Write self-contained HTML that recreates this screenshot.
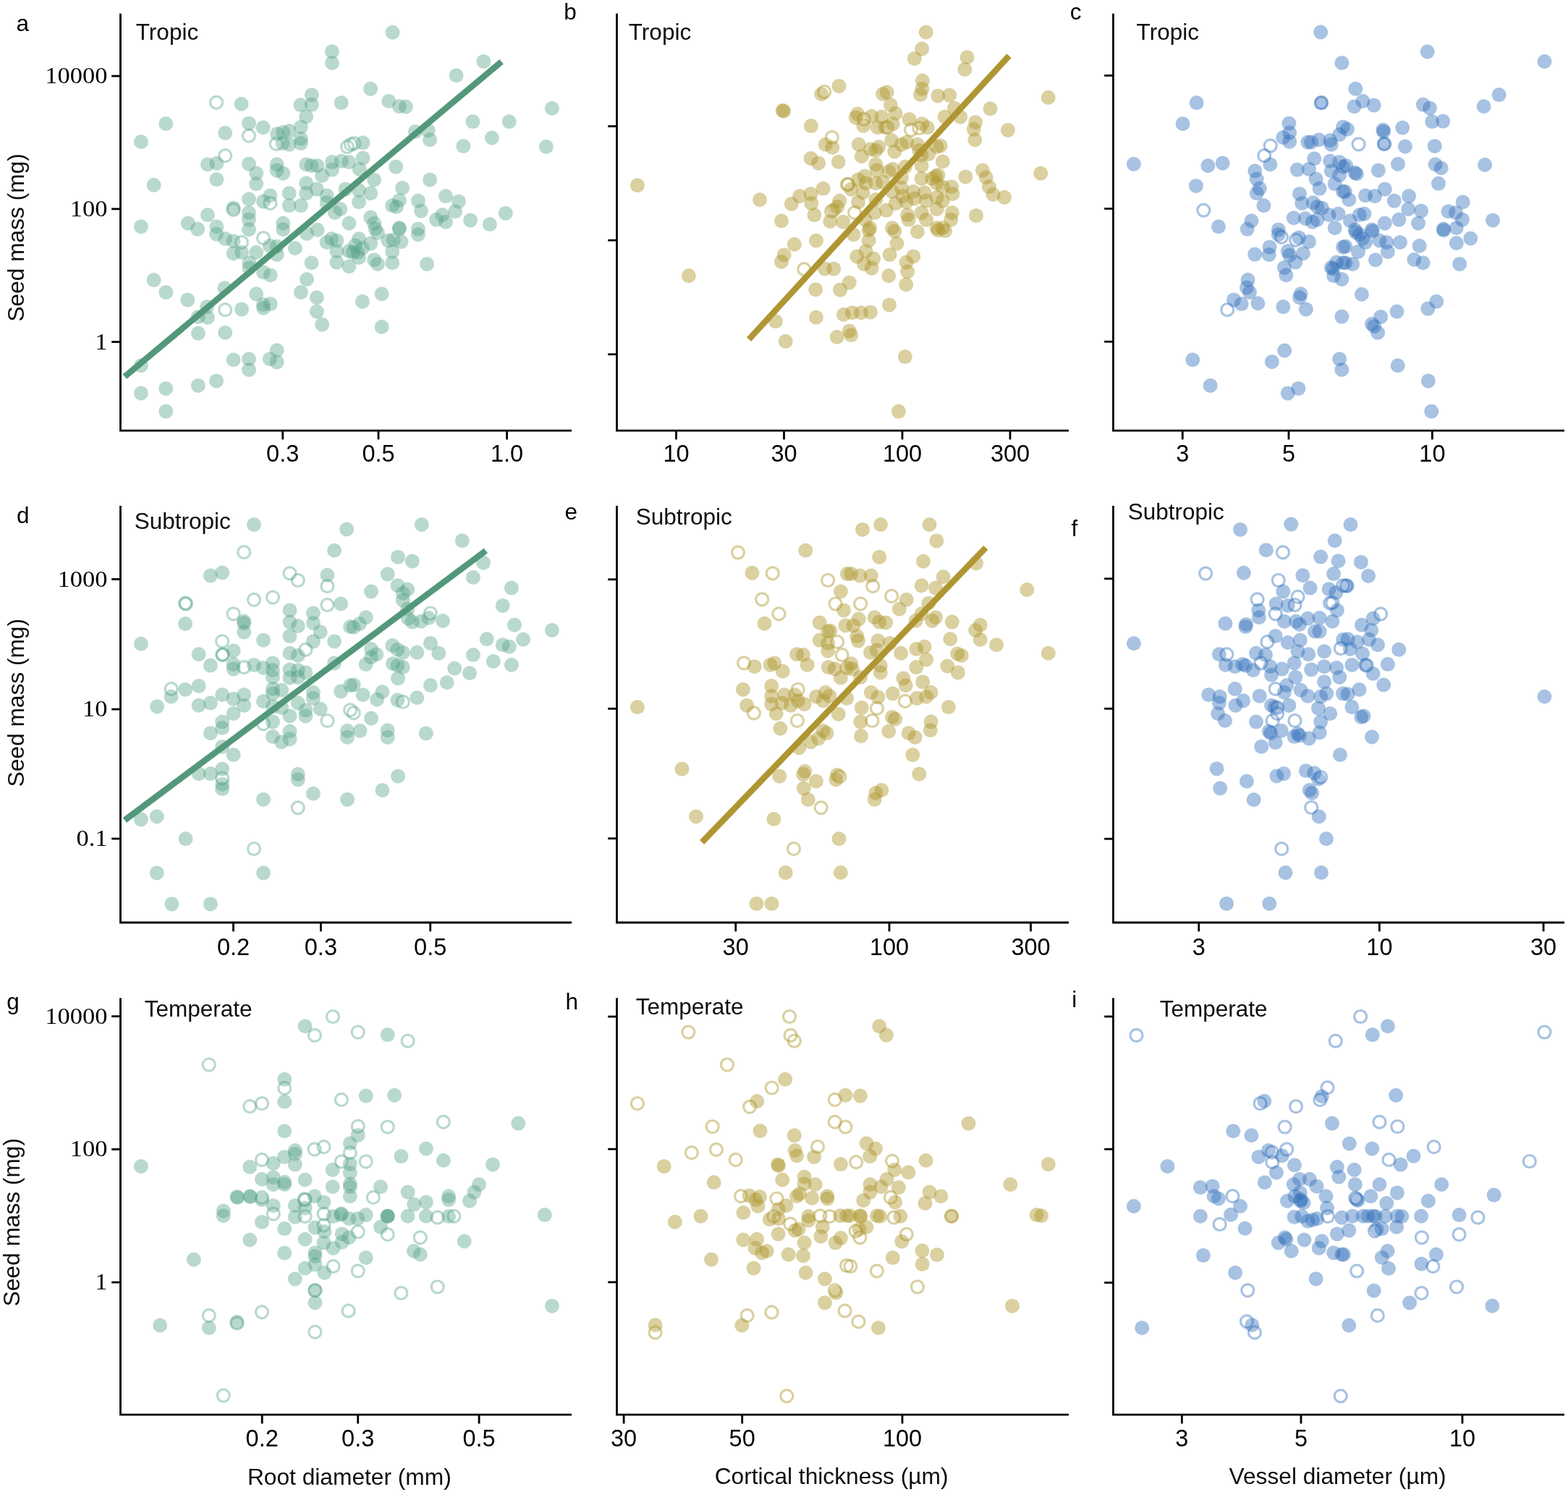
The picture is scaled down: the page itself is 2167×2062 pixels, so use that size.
<!DOCTYPE html>
<html><head><meta charset="utf-8"><title>Seed mass vs root traits</title>
<style>html,body{margin:0;padding:0;background:#fff;}
svg{display:block;}
.xl{font-family:"Liberation Sans",Arial,sans-serif;font-size:32.5px;text-anchor:middle;fill:#000;}
.yl{font-family:"Liberation Serif","Times New Roman",serif;font-size:32.5px;text-anchor:end;fill:#000;}
.lt{font-family:"Liberation Sans",Arial,sans-serif;font-size:31.5px;fill:#110c0c;}
.pl{font-family:"Liberation Sans",Arial,sans-serif;font-size:31.5px;fill:#000;}
.at{font-family:"Liberation Sans",Arial,sans-serif;font-size:31.7px;text-anchor:middle;fill:#110c0c;}
</style></head>
<body>
<svg xmlns="http://www.w3.org/2000/svg" width="2167" height="2062" viewBox="0 0 2167 2062">
<rect width="2167" height="2062" fill="#ffffff"/>
<g><circle cx="458.9" cy="71.2" r="10" fill="#50a082" fill-opacity="0.4"/><circle cx="458.9" cy="87" r="10" fill="#50a082" fill-opacity="0.4"/><circle cx="430.8" cy="131.3" r="10" fill="#50a082" fill-opacity="0.4"/><circle cx="415.4" cy="145.1" r="10" fill="#50a082" fill-opacity="0.4"/><circle cx="430.8" cy="144.6" r="10" fill="#50a082" fill-opacity="0.4"/><circle cx="471.6" cy="142.1" r="10" fill="#50a082" fill-opacity="0.4"/><circle cx="299.1" cy="141.7" r="8.5" fill="none" stroke="#50a082" stroke-width="3.2" stroke-opacity="0.4"/><circle cx="333.6" cy="143.8" r="10" fill="#50a082" fill-opacity="0.4"/><circle cx="423.2" cy="161.3" r="10" fill="#50a082" fill-opacity="0.4"/><circle cx="229.3" cy="171" r="10" fill="#50a082" fill-opacity="0.4"/><circle cx="344" cy="170.5" r="10" fill="#50a082" fill-opacity="0.4"/><circle cx="363.6" cy="176.2" r="10" fill="#50a082" fill-opacity="0.4"/><circle cx="415.9" cy="175.4" r="10" fill="#50a082" fill-opacity="0.4"/><circle cx="311.2" cy="183.8" r="10" fill="#50a082" fill-opacity="0.4"/><circle cx="344" cy="187.6" r="8.5" fill="none" stroke="#50a082" stroke-width="3.2" stroke-opacity="0.4"/><circle cx="194.9" cy="196" r="10" fill="#50a082" fill-opacity="0.4"/><circle cx="383.1" cy="185.1" r="10" fill="#50a082" fill-opacity="0.4"/><circle cx="391.2" cy="182.7" r="10" fill="#50a082" fill-opacity="0.4"/><circle cx="399.7" cy="181.1" r="10" fill="#50a082" fill-opacity="0.4"/><circle cx="381.8" cy="198.9" r="8.5" fill="none" stroke="#50a082" stroke-width="3.2" stroke-opacity="0.4"/><circle cx="390.7" cy="198.1" r="10" fill="#50a082" fill-opacity="0.4"/><circle cx="399.7" cy="199.7" r="10" fill="#50a082" fill-opacity="0.4"/><circle cx="415.9" cy="191.6" r="10" fill="#50a082" fill-opacity="0.4"/><circle cx="415.9" cy="198.1" r="10" fill="#50a082" fill-opacity="0.4"/><circle cx="480" cy="203" r="8.5" fill="none" stroke="#50a082" stroke-width="3.2" stroke-opacity="0.4"/><circle cx="484.9" cy="199.7" r="8.5" fill="none" stroke="#50a082" stroke-width="3.2" stroke-opacity="0.4"/><circle cx="311.2" cy="215.2" r="8.5" fill="none" stroke="#50a082" stroke-width="3.2" stroke-opacity="0.4"/><circle cx="286.9" cy="227.3" r="10" fill="#50a082" fill-opacity="0.4"/><circle cx="299.4" cy="225.7" r="10" fill="#50a082" fill-opacity="0.4"/><circle cx="344" cy="226.5" r="10" fill="#50a082" fill-opacity="0.4"/><circle cx="382.6" cy="227.3" r="10" fill="#50a082" fill-opacity="0.4"/><circle cx="382.6" cy="235.4" r="10" fill="#50a082" fill-opacity="0.4"/><circle cx="391.2" cy="239.5" r="10" fill="#50a082" fill-opacity="0.4"/><circle cx="354.2" cy="239.5" r="10" fill="#50a082" fill-opacity="0.4"/><circle cx="423.2" cy="227.3" r="10" fill="#50a082" fill-opacity="0.4"/><circle cx="430.5" cy="229" r="10" fill="#50a082" fill-opacity="0.4"/><circle cx="438.6" cy="229" r="10" fill="#50a082" fill-opacity="0.4"/><circle cx="458.9" cy="224.1" r="10" fill="#50a082" fill-opacity="0.4"/><circle cx="471.9" cy="222.5" r="10" fill="#50a082" fill-opacity="0.4"/><circle cx="482.4" cy="224.1" r="10" fill="#50a082" fill-opacity="0.4"/><circle cx="445.1" cy="242.7" r="10" fill="#50a082" fill-opacity="0.4"/><circle cx="458.9" cy="234.6" r="10" fill="#50a082" fill-opacity="0.4"/><circle cx="299.4" cy="248.1" r="10" fill="#50a082" fill-opacity="0.4"/><circle cx="212.6" cy="255.7" r="10" fill="#50a082" fill-opacity="0.4"/><circle cx="354.2" cy="254.1" r="10" fill="#50a082" fill-opacity="0.4"/><circle cx="423.2" cy="253.3" r="10" fill="#50a082" fill-opacity="0.4"/><circle cx="437.8" cy="261.4" r="10" fill="#50a082" fill-opacity="0.4"/><circle cx="399.7" cy="267.1" r="10" fill="#50a082" fill-opacity="0.4"/><circle cx="423.2" cy="267.1" r="10" fill="#50a082" fill-opacity="0.4"/><circle cx="477.6" cy="261.4" r="10" fill="#50a082" fill-opacity="0.4"/><circle cx="344" cy="275.2" r="10" fill="#50a082" fill-opacity="0.4"/><circle cx="373.4" cy="270.3" r="10" fill="#50a082" fill-opacity="0.4"/><circle cx="364" cy="278.4" r="10" fill="#50a082" fill-opacity="0.4"/><circle cx="373.4" cy="280.9" r="8.5" fill="none" stroke="#50a082" stroke-width="3.2" stroke-opacity="0.4"/><circle cx="399.7" cy="284.1" r="10" fill="#50a082" fill-opacity="0.4"/><circle cx="415.9" cy="284.1" r="10" fill="#50a082" fill-opacity="0.4"/><circle cx="451.6" cy="270.3" r="10" fill="#50a082" fill-opacity="0.4"/><circle cx="451.6" cy="280.1" r="10" fill="#50a082" fill-opacity="0.4"/><circle cx="322.6" cy="287.4" r="10" fill="#50a082" fill-opacity="0.4"/><circle cx="322.6" cy="289.8" r="8.5" fill="none" stroke="#50a082" stroke-width="3.2" stroke-opacity="0.4"/><circle cx="344" cy="293.9" r="10" fill="#50a082" fill-opacity="0.4"/><circle cx="344" cy="303.6" r="10" fill="#50a082" fill-opacity="0.4"/><circle cx="286.9" cy="297.1" r="10" fill="#50a082" fill-opacity="0.4"/><circle cx="259.8" cy="308.5" r="10" fill="#50a082" fill-opacity="0.4"/><circle cx="273.1" cy="316.6" r="10" fill="#50a082" fill-opacity="0.4"/><circle cx="299.4" cy="313.3" r="10" fill="#50a082" fill-opacity="0.4"/><circle cx="194.9" cy="313.3" r="10" fill="#50a082" fill-opacity="0.4"/><circle cx="391.2" cy="308.5" r="10" fill="#50a082" fill-opacity="0.4"/><circle cx="470.3" cy="289" r="10" fill="#50a082" fill-opacity="0.4"/><circle cx="463" cy="293.9" r="10" fill="#50a082" fill-opacity="0.4"/><circle cx="482.4" cy="308.5" r="10" fill="#50a082" fill-opacity="0.4"/><circle cx="542.5" cy="44.8" r="10" fill="#50a082" fill-opacity="0.4"/><circle cx="668.3" cy="84.9" r="10" fill="#50a082" fill-opacity="0.4"/><circle cx="630.6" cy="104.3" r="10" fill="#50a082" fill-opacity="0.4"/><circle cx="512.2" cy="122.7" r="10" fill="#50a082" fill-opacity="0.4"/><circle cx="537.3" cy="139.7" r="10" fill="#50a082" fill-opacity="0.4"/><circle cx="551.9" cy="147" r="10" fill="#50a082" fill-opacity="0.4"/><circle cx="560.9" cy="147.5" r="10" fill="#50a082" fill-opacity="0.4"/><circle cx="762.9" cy="149.8" r="10" fill="#50a082" fill-opacity="0.4"/><circle cx="653.4" cy="168.1" r="10" fill="#50a082" fill-opacity="0.4"/><circle cx="703.7" cy="168.1" r="10" fill="#50a082" fill-opacity="0.4"/><circle cx="573.9" cy="181.9" r="10" fill="#50a082" fill-opacity="0.4"/><circle cx="591.7" cy="180.3" r="10" fill="#50a082" fill-opacity="0.4"/><circle cx="594.1" cy="193.3" r="10" fill="#50a082" fill-opacity="0.4"/><circle cx="679.8" cy="190.5" r="10" fill="#50a082" fill-opacity="0.4"/><circle cx="640.4" cy="201.9" r="10" fill="#50a082" fill-opacity="0.4"/><circle cx="754.8" cy="202.7" r="10" fill="#50a082" fill-opacity="0.4"/><circle cx="489.5" cy="198.1" r="8.5" fill="none" stroke="#50a082" stroke-width="3.2" stroke-opacity="0.4"/><circle cx="501.6" cy="197.3" r="10" fill="#50a082" fill-opacity="0.4"/><circle cx="501.6" cy="218.4" r="10" fill="#50a082" fill-opacity="0.4"/><circle cx="496.8" cy="233.8" r="10" fill="#50a082" fill-opacity="0.4"/><circle cx="517.1" cy="248.4" r="10" fill="#50a082" fill-opacity="0.4"/><circle cx="547.1" cy="230.6" r="10" fill="#50a082" fill-opacity="0.4"/><circle cx="594.1" cy="248.4" r="10" fill="#50a082" fill-opacity="0.4"/><circle cx="556" cy="259.8" r="10" fill="#50a082" fill-opacity="0.4"/><circle cx="496" cy="263" r="10" fill="#50a082" fill-opacity="0.4"/><circle cx="496" cy="279.3" r="10" fill="#50a082" fill-opacity="0.4"/><circle cx="512.2" cy="267.1" r="10" fill="#50a082" fill-opacity="0.4"/><circle cx="551.9" cy="276.8" r="10" fill="#50a082" fill-opacity="0.4"/><circle cx="542.2" cy="284.1" r="10" fill="#50a082" fill-opacity="0.4"/><circle cx="547.9" cy="285.7" r="10" fill="#50a082" fill-opacity="0.4"/><circle cx="577.9" cy="277.6" r="10" fill="#50a082" fill-opacity="0.4"/><circle cx="582" cy="291.4" r="10" fill="#50a082" fill-opacity="0.4"/><circle cx="616" cy="271.1" r="10" fill="#50a082" fill-opacity="0.4"/><circle cx="633.9" cy="278.4" r="10" fill="#50a082" fill-opacity="0.4"/><circle cx="629" cy="292.2" r="10" fill="#50a082" fill-opacity="0.4"/><circle cx="611.2" cy="297.1" r="10" fill="#50a082" fill-opacity="0.4"/><circle cx="603.1" cy="303.6" r="10" fill="#50a082" fill-opacity="0.4"/><circle cx="616" cy="306.8" r="10" fill="#50a082" fill-opacity="0.4"/><circle cx="650.1" cy="304.4" r="10" fill="#50a082" fill-opacity="0.4"/><circle cx="698.8" cy="294.7" r="10" fill="#50a082" fill-opacity="0.4"/><circle cx="676.9" cy="310.1" r="10" fill="#50a082" fill-opacity="0.4"/><circle cx="512.2" cy="300.4" r="10" fill="#50a082" fill-opacity="0.4"/><circle cx="517.1" cy="308.5" r="10" fill="#50a082" fill-opacity="0.4"/><circle cx="551.9" cy="315" r="10" fill="#50a082" fill-opacity="0.4"/><circle cx="577.9" cy="316.6" r="10" fill="#50a082" fill-opacity="0.4"/><circle cx="299.1" cy="323.5" r="10" fill="#50a082" fill-opacity="0.4"/><circle cx="344" cy="317" r="10" fill="#50a082" fill-opacity="0.4"/><circle cx="391.2" cy="317" r="10" fill="#50a082" fill-opacity="0.4"/><circle cx="311.2" cy="330" r="10" fill="#50a082" fill-opacity="0.4"/><circle cx="322.6" cy="333.3" r="10" fill="#50a082" fill-opacity="0.4"/><circle cx="334" cy="334.9" r="8.5" fill="none" stroke="#50a082" stroke-width="3.2" stroke-opacity="0.4"/><circle cx="322.6" cy="350.3" r="10" fill="#50a082" fill-opacity="0.4"/><circle cx="334" cy="348.7" r="10" fill="#50a082" fill-opacity="0.4"/><circle cx="354.2" cy="348.7" r="10" fill="#50a082" fill-opacity="0.4"/><circle cx="364" cy="329.2" r="8.5" fill="none" stroke="#50a082" stroke-width="3.2" stroke-opacity="0.4"/><circle cx="372.9" cy="339.8" r="10" fill="#50a082" fill-opacity="0.4"/><circle cx="382.6" cy="340.6" r="10" fill="#50a082" fill-opacity="0.4"/><circle cx="382.6" cy="351.9" r="10" fill="#50a082" fill-opacity="0.4"/><circle cx="344.5" cy="363.3" r="10" fill="#50a082" fill-opacity="0.4"/><circle cx="344.5" cy="370.6" r="10" fill="#50a082" fill-opacity="0.4"/><circle cx="364" cy="376.3" r="10" fill="#50a082" fill-opacity="0.4"/><circle cx="373.7" cy="380.3" r="10" fill="#50a082" fill-opacity="0.4"/><circle cx="407.8" cy="343" r="10" fill="#50a082" fill-opacity="0.4"/><circle cx="424" cy="322.7" r="10" fill="#50a082" fill-opacity="0.4"/><circle cx="438.6" cy="317.8" r="10" fill="#50a082" fill-opacity="0.4"/><circle cx="451.6" cy="334.9" r="10" fill="#50a082" fill-opacity="0.4"/><circle cx="458.1" cy="330" r="10" fill="#50a082" fill-opacity="0.4"/><circle cx="465.4" cy="332.5" r="10" fill="#50a082" fill-opacity="0.4"/><circle cx="465.4" cy="347.1" r="10" fill="#50a082" fill-opacity="0.4"/><circle cx="465.4" cy="362.5" r="10" fill="#50a082" fill-opacity="0.4"/><circle cx="482.4" cy="347.1" r="10" fill="#50a082" fill-opacity="0.4"/><circle cx="482.4" cy="368.2" r="10" fill="#50a082" fill-opacity="0.4"/><circle cx="430.5" cy="363.3" r="10" fill="#50a082" fill-opacity="0.4"/><circle cx="424" cy="386" r="10" fill="#50a082" fill-opacity="0.4"/><circle cx="415.9" cy="403.9" r="10" fill="#50a082" fill-opacity="0.4"/><circle cx="437.8" cy="411.2" r="10" fill="#50a082" fill-opacity="0.4"/><circle cx="437.8" cy="430.6" r="10" fill="#50a082" fill-opacity="0.4"/><circle cx="445.1" cy="448.5" r="10" fill="#50a082" fill-opacity="0.4"/><circle cx="310.4" cy="398.2" r="10" fill="#50a082" fill-opacity="0.4"/><circle cx="354.2" cy="406.3" r="10" fill="#50a082" fill-opacity="0.4"/><circle cx="364" cy="420.9" r="10" fill="#50a082" fill-opacity="0.4"/><circle cx="364" cy="425.8" r="10" fill="#50a082" fill-opacity="0.4"/><circle cx="373.7" cy="420.1" r="10" fill="#50a082" fill-opacity="0.4"/><circle cx="334" cy="427.4" r="10" fill="#50a082" fill-opacity="0.4"/><circle cx="311.2" cy="428.2" r="8.5" fill="none" stroke="#50a082" stroke-width="3.2" stroke-opacity="0.4"/><circle cx="286.1" cy="424.1" r="10" fill="#50a082" fill-opacity="0.4"/><circle cx="273.9" cy="437.9" r="10" fill="#50a082" fill-opacity="0.4"/><circle cx="286.9" cy="438.7" r="10" fill="#50a082" fill-opacity="0.4"/><circle cx="259.3" cy="414.4" r="10" fill="#50a082" fill-opacity="0.4"/><circle cx="229.3" cy="403.9" r="10" fill="#50a082" fill-opacity="0.4"/><circle cx="212.6" cy="387.1" r="10" fill="#50a082" fill-opacity="0.4"/><circle cx="273.9" cy="460.6" r="10" fill="#50a082" fill-opacity="0.4"/><circle cx="311.2" cy="459.8" r="10" fill="#50a082" fill-opacity="0.4"/><circle cx="194.9" cy="505.3" r="10" fill="#50a082" fill-opacity="0.4"/><circle cx="322.6" cy="497.2" r="10" fill="#50a082" fill-opacity="0.4"/><circle cx="344" cy="496.3" r="10" fill="#50a082" fill-opacity="0.4"/><circle cx="344" cy="511" r="10" fill="#50a082" fill-opacity="0.4"/><circle cx="372.9" cy="496.3" r="10" fill="#50a082" fill-opacity="0.4"/><circle cx="382.6" cy="484.2" r="10" fill="#50a082" fill-opacity="0.4"/><circle cx="382.6" cy="500.4" r="10" fill="#50a082" fill-opacity="0.4"/><circle cx="299.1" cy="526.4" r="10" fill="#50a082" fill-opacity="0.4"/><circle cx="273.9" cy="532.9" r="10" fill="#50a082" fill-opacity="0.4"/><circle cx="229.3" cy="536.9" r="10" fill="#50a082" fill-opacity="0.4"/><circle cx="194.9" cy="543.4" r="10" fill="#50a082" fill-opacity="0.4"/><circle cx="229.3" cy="568.6" r="10" fill="#50a082" fill-opacity="0.4"/><circle cx="518.7" cy="316.2" r="10" fill="#50a082" fill-opacity="0.4"/><circle cx="521.9" cy="321.9" r="10" fill="#50a082" fill-opacity="0.4"/><circle cx="496" cy="330" r="10" fill="#50a082" fill-opacity="0.4"/><circle cx="512.2" cy="336.5" r="10" fill="#50a082" fill-opacity="0.4"/><circle cx="491.1" cy="338.9" r="10" fill="#50a082" fill-opacity="0.4"/><circle cx="500.8" cy="343" r="10" fill="#50a082" fill-opacity="0.4"/><circle cx="487.8" cy="348.7" r="10" fill="#50a082" fill-opacity="0.4"/><circle cx="494.3" cy="348.7" r="10" fill="#50a082" fill-opacity="0.4"/><circle cx="496" cy="356" r="10" fill="#50a082" fill-opacity="0.4"/><circle cx="536.5" cy="332.5" r="10" fill="#50a082" fill-opacity="0.4"/><circle cx="543.8" cy="331.6" r="10" fill="#50a082" fill-opacity="0.4"/><circle cx="551.9" cy="316.2" r="10" fill="#50a082" fill-opacity="0.4"/><circle cx="554.4" cy="334.1" r="10" fill="#50a082" fill-opacity="0.4"/><circle cx="542.2" cy="347.9" r="10" fill="#50a082" fill-opacity="0.4"/><circle cx="542.2" cy="363.3" r="10" fill="#50a082" fill-opacity="0.4"/><circle cx="517.1" cy="359.2" r="10" fill="#50a082" fill-opacity="0.4"/><circle cx="521.9" cy="364.9" r="10" fill="#50a082" fill-opacity="0.4"/><circle cx="577.9" cy="324.3" r="10" fill="#50a082" fill-opacity="0.4"/><circle cx="590.1" cy="364.9" r="10" fill="#50a082" fill-opacity="0.4"/><circle cx="500.8" cy="416.8" r="10" fill="#50a082" fill-opacity="0.4"/><circle cx="527.6" cy="406.3" r="10" fill="#50a082" fill-opacity="0.4"/><circle cx="527.6" cy="451.7" r="10" fill="#50a082" fill-opacity="0.4"/></g>
<line x1="172.4" y1="520.5" x2="693.1" y2="85.3" stroke="#53987a" stroke-width="8.5"/>
<path d="M166.5 18.7 V595.1 H790" fill="none" stroke="#000" stroke-width="2.8" stroke-linecap="butt" stroke-linejoin="miter"/>
<line x1="154.2" y1="105.1" x2="166.5" y2="105.1" stroke="#000" stroke-width="2.8"/>
<line x1="154.2" y1="288.8" x2="166.5" y2="288.8" stroke="#000" stroke-width="2.8"/>
<line x1="154.2" y1="472.5" x2="166.5" y2="472.5" stroke="#000" stroke-width="2.8"/>
<line x1="390.7" y1="595.1" x2="390.7" y2="607.4" stroke="#000" stroke-width="2.8"/>
<text x="390.7" y="638.0" class="xl">0.3</text>
<line x1="523" y1="595.1" x2="523" y2="607.4" stroke="#000" stroke-width="2.8"/>
<text x="523" y="638.0" class="xl">0.5</text>
<line x1="700.6" y1="595.1" x2="700.6" y2="607.4" stroke="#000" stroke-width="2.8"/>
<text x="700.6" y="638.0" class="xl">1.0</text>
<text x="148.6" y="115.1" class="yl" textLength="86.25" lengthAdjust="spacingAndGlyphs">10000</text>
<text x="148.6" y="298.8" class="yl" textLength="51.75" lengthAdjust="spacingAndGlyphs">100</text>
<text x="148.6" y="482.5" class="yl" textLength="17.25" lengthAdjust="spacingAndGlyphs">1</text>
<text x="22.6" y="42.6" class="pl">a</text>
<text x="187.8" y="54.7" class="lt">Tropic</text>
<g><circle cx="1159.5" cy="118.9" r="10" fill="#ad972c" fill-opacity="0.45"/><circle cx="1135.2" cy="130" r="10" fill="#ad972c" fill-opacity="0.45"/><circle cx="1139.2" cy="127" r="8.5" fill="none" stroke="#ad972c" stroke-width="3.2" stroke-opacity="0.45"/><circle cx="1081.6" cy="152.7" r="10" fill="#ad972c" fill-opacity="0.45"/><circle cx="1083.2" cy="153.5" r="10" fill="#ad972c" fill-opacity="0.45"/><circle cx="1120.9" cy="174.1" r="10" fill="#ad972c" fill-opacity="0.45"/><circle cx="1149.8" cy="190" r="8.5" fill="none" stroke="#ad972c" stroke-width="3.2" stroke-opacity="0.45"/><circle cx="1140.8" cy="199.7" r="10" fill="#ad972c" fill-opacity="0.45"/><circle cx="1150.3" cy="203.8" r="10" fill="#ad972c" fill-opacity="0.45"/><circle cx="1120.6" cy="218.9" r="10" fill="#ad972c" fill-opacity="0.45"/><circle cx="1131.1" cy="225.4" r="10" fill="#ad972c" fill-opacity="0.45"/><circle cx="1158.7" cy="223.8" r="10" fill="#ad972c" fill-opacity="0.45"/><circle cx="880.9" cy="256.2" r="10" fill="#ad972c" fill-opacity="0.45"/><circle cx="1050" cy="276" r="10" fill="#ad972c" fill-opacity="0.45"/><circle cx="1093.8" cy="281.7" r="10" fill="#ad972c" fill-opacity="0.45"/><circle cx="1105.1" cy="271.1" r="10" fill="#ad972c" fill-opacity="0.45"/><circle cx="1120.6" cy="267.9" r="10" fill="#ad972c" fill-opacity="0.45"/><circle cx="1121.4" cy="280.9" r="10" fill="#ad972c" fill-opacity="0.45"/><circle cx="1137.6" cy="260.6" r="10" fill="#ad972c" fill-opacity="0.45"/><circle cx="1170.9" cy="254.9" r="8.5" fill="none" stroke="#ad972c" stroke-width="3.2" stroke-opacity="0.45"/><circle cx="1125.4" cy="297.1" r="10" fill="#ad972c" fill-opacity="0.45"/><circle cx="1080" cy="305.2" r="10" fill="#ad972c" fill-opacity="0.45"/><circle cx="1147.3" cy="306" r="10" fill="#ad972c" fill-opacity="0.45"/><circle cx="1152.2" cy="290.6" r="10" fill="#ad972c" fill-opacity="0.45"/><circle cx="1157.1" cy="285.7" r="10" fill="#ad972c" fill-opacity="0.45"/><circle cx="1160.3" cy="277.6" r="10" fill="#ad972c" fill-opacity="0.45"/><circle cx="1165.2" cy="306.8" r="10" fill="#ad972c" fill-opacity="0.45"/><circle cx="1149" cy="292.2" r="8.5" fill="none" stroke="#ad972c" stroke-width="3.2" stroke-opacity="0.45"/><circle cx="1279.8" cy="44.5" r="10" fill="#ad972c" fill-opacity="0.45"/><circle cx="1274.1" cy="67.5" r="10" fill="#ad972c" fill-opacity="0.45"/><circle cx="1263.9" cy="81" r="10" fill="#ad972c" fill-opacity="0.45"/><circle cx="1336.6" cy="79.3" r="10" fill="#ad972c" fill-opacity="0.45"/><circle cx="1333.3" cy="95.9" r="10" fill="#ad972c" fill-opacity="0.45"/><circle cx="1274.9" cy="111.6" r="10" fill="#ad972c" fill-opacity="0.45"/><circle cx="1274.4" cy="122.7" r="10" fill="#ad972c" fill-opacity="0.45"/><circle cx="1272" cy="130.8" r="10" fill="#ad972c" fill-opacity="0.45"/><circle cx="1220" cy="130" r="10" fill="#ad972c" fill-opacity="0.45"/><circle cx="1225.7" cy="127.5" r="10" fill="#ad972c" fill-opacity="0.45"/><circle cx="1296.3" cy="132.4" r="10" fill="#ad972c" fill-opacity="0.45"/><circle cx="1312.2" cy="131.6" r="10" fill="#ad972c" fill-opacity="0.45"/><circle cx="1230.9" cy="145.1" r="10" fill="#ad972c" fill-opacity="0.45"/><circle cx="1237.6" cy="156.7" r="10" fill="#ad972c" fill-opacity="0.45"/><circle cx="1319" cy="149.4" r="10" fill="#ad972c" fill-opacity="0.45"/><circle cx="1305.7" cy="161.6" r="10" fill="#ad972c" fill-opacity="0.45"/><circle cx="1327.1" cy="161.6" r="10" fill="#ad972c" fill-opacity="0.45"/><circle cx="1368.5" cy="150.3" r="10" fill="#ad972c" fill-opacity="0.45"/><circle cx="1448.8" cy="134.8" r="10" fill="#ad972c" fill-opacity="0.45"/><circle cx="1348.2" cy="168.9" r="10" fill="#ad972c" fill-opacity="0.45"/><circle cx="1345.8" cy="178.6" r="10" fill="#ad972c" fill-opacity="0.45"/><circle cx="1347.4" cy="193.3" r="10" fill="#ad972c" fill-opacity="0.45"/><circle cx="1392.9" cy="179.9" r="10" fill="#ad972c" fill-opacity="0.45"/><circle cx="1185.2" cy="157.6" r="10" fill="#ad972c" fill-opacity="0.45"/><circle cx="1182.7" cy="162.4" r="10" fill="#ad972c" fill-opacity="0.45"/><circle cx="1194.1" cy="164.9" r="8.5" fill="none" stroke="#ad972c" stroke-width="3.2" stroke-opacity="0.45"/><circle cx="1193.3" cy="173.8" r="10" fill="#ad972c" fill-opacity="0.45"/><circle cx="1204.6" cy="160.8" r="10" fill="#ad972c" fill-opacity="0.45"/><circle cx="1212.7" cy="176.2" r="10" fill="#ad972c" fill-opacity="0.45"/><circle cx="1218.4" cy="161.6" r="10" fill="#ad972c" fill-opacity="0.45"/><circle cx="1226.5" cy="176.2" r="8.5" fill="none" stroke="#ad972c" stroke-width="3.2" stroke-opacity="0.45"/><circle cx="1223.3" cy="176.2" r="10" fill="#ad972c" fill-opacity="0.45"/><circle cx="1233.8" cy="171.3" r="10" fill="#ad972c" fill-opacity="0.45"/><circle cx="1256.6" cy="164.9" r="10" fill="#ad972c" fill-opacity="0.45"/><circle cx="1259" cy="179.5" r="8.5" fill="none" stroke="#ad972c" stroke-width="3.2" stroke-opacity="0.45"/><circle cx="1270.3" cy="177" r="8.5" fill="none" stroke="#ad972c" stroke-width="3.2" stroke-opacity="0.45"/><circle cx="1274.4" cy="171.3" r="10" fill="#ad972c" fill-opacity="0.45"/><circle cx="1281.7" cy="176.2" r="10" fill="#ad972c" fill-opacity="0.45"/><circle cx="1186.8" cy="199.7" r="10" fill="#ad972c" fill-opacity="0.45"/><circle cx="1190.8" cy="216" r="10" fill="#ad972c" fill-opacity="0.45"/><circle cx="1203" cy="206.2" r="10" fill="#ad972c" fill-opacity="0.45"/><circle cx="1210.3" cy="207.9" r="10" fill="#ad972c" fill-opacity="0.45"/><circle cx="1214.4" cy="203" r="10" fill="#ad972c" fill-opacity="0.45"/><circle cx="1232.2" cy="194.1" r="10" fill="#ad972c" fill-opacity="0.45"/><circle cx="1236.3" cy="209.5" r="10" fill="#ad972c" fill-opacity="0.45"/><circle cx="1246" cy="199.7" r="10" fill="#ad972c" fill-opacity="0.45"/><circle cx="1253.3" cy="196.5" r="10" fill="#ad972c" fill-opacity="0.45"/><circle cx="1267.9" cy="199.7" r="10" fill="#ad972c" fill-opacity="0.45"/><circle cx="1270.3" cy="207.9" r="10" fill="#ad972c" fill-opacity="0.45"/><circle cx="1273.6" cy="214.3" r="10" fill="#ad972c" fill-opacity="0.45"/><circle cx="1283.3" cy="212.7" r="10" fill="#ad972c" fill-opacity="0.45"/><circle cx="1294.7" cy="203" r="10" fill="#ad972c" fill-opacity="0.45"/><circle cx="1299.6" cy="201.4" r="10" fill="#ad972c" fill-opacity="0.45"/><circle cx="1302.8" cy="223.3" r="10" fill="#ad972c" fill-opacity="0.45"/><circle cx="1210.3" cy="227.3" r="10" fill="#ad972c" fill-opacity="0.45"/><circle cx="1211.9" cy="235.4" r="10" fill="#ad972c" fill-opacity="0.45"/><circle cx="1194.9" cy="243.6" r="10" fill="#ad972c" fill-opacity="0.45"/><circle cx="1186" cy="248.4" r="10" fill="#ad972c" fill-opacity="0.45"/><circle cx="1172.2" cy="254.9" r="8.5" fill="none" stroke="#ad972c" stroke-width="3.2" stroke-opacity="0.45"/><circle cx="1196.5" cy="253.3" r="10" fill="#ad972c" fill-opacity="0.45"/><circle cx="1210.3" cy="253.3" r="10" fill="#ad972c" fill-opacity="0.45"/><circle cx="1220" cy="251.7" r="10" fill="#ad972c" fill-opacity="0.45"/><circle cx="1228.2" cy="237.1" r="10" fill="#ad972c" fill-opacity="0.45"/><circle cx="1233.8" cy="233.8" r="10" fill="#ad972c" fill-opacity="0.45"/><circle cx="1250.9" cy="230.6" r="10" fill="#ad972c" fill-opacity="0.45"/><circle cx="1246" cy="245.2" r="10" fill="#ad972c" fill-opacity="0.45"/><circle cx="1273.6" cy="229" r="10" fill="#ad972c" fill-opacity="0.45"/><circle cx="1273.6" cy="246.8" r="10" fill="#ad972c" fill-opacity="0.45"/><circle cx="1288.2" cy="246.8" r="10" fill="#ad972c" fill-opacity="0.45"/><circle cx="1293.1" cy="243.6" r="10" fill="#ad972c" fill-opacity="0.45"/><circle cx="1296.3" cy="241.9" r="10" fill="#ad972c" fill-opacity="0.45"/><circle cx="1294.7" cy="253.3" r="10" fill="#ad972c" fill-opacity="0.45"/><circle cx="1334.4" cy="244.4" r="10" fill="#ad972c" fill-opacity="0.45"/><circle cx="1358" cy="235.4" r="10" fill="#ad972c" fill-opacity="0.45"/><circle cx="1362.8" cy="245.2" r="10" fill="#ad972c" fill-opacity="0.45"/><circle cx="1366.9" cy="258.2" r="10" fill="#ad972c" fill-opacity="0.45"/><circle cx="1372.6" cy="268.7" r="10" fill="#ad972c" fill-opacity="0.45"/><circle cx="1388" cy="272.8" r="10" fill="#ad972c" fill-opacity="0.45"/><circle cx="1438.3" cy="239.5" r="10" fill="#ad972c" fill-opacity="0.45"/><circle cx="1176.2" cy="261.4" r="10" fill="#ad972c" fill-opacity="0.45"/><circle cx="1192.5" cy="266.3" r="10" fill="#ad972c" fill-opacity="0.45"/><circle cx="1186" cy="279.3" r="10" fill="#ad972c" fill-opacity="0.45"/><circle cx="1210.3" cy="276" r="10" fill="#ad972c" fill-opacity="0.45"/><circle cx="1233" cy="264.7" r="10" fill="#ad972c" fill-opacity="0.45"/><circle cx="1237.9" cy="280.9" r="10" fill="#ad972c" fill-opacity="0.45"/><circle cx="1246" cy="259.8" r="10" fill="#ad972c" fill-opacity="0.45"/><circle cx="1247.6" cy="271.1" r="10" fill="#ad972c" fill-opacity="0.45"/><circle cx="1252.5" cy="279.3" r="10" fill="#ad972c" fill-opacity="0.45"/><circle cx="1262.2" cy="264.7" r="10" fill="#ad972c" fill-opacity="0.45"/><circle cx="1263.9" cy="274.4" r="10" fill="#ad972c" fill-opacity="0.45"/><circle cx="1277.6" cy="266.3" r="10" fill="#ad972c" fill-opacity="0.45"/><circle cx="1280.1" cy="277.6" r="10" fill="#ad972c" fill-opacity="0.45"/><circle cx="1294.7" cy="272.8" r="10" fill="#ad972c" fill-opacity="0.45"/><circle cx="1302.8" cy="277.6" r="10" fill="#ad972c" fill-opacity="0.45"/><circle cx="1315" cy="258.2" r="10" fill="#ad972c" fill-opacity="0.45"/><circle cx="1316.6" cy="267.9" r="10" fill="#ad972c" fill-opacity="0.45"/><circle cx="1302.8" cy="258.2" r="10" fill="#ad972c" fill-opacity="0.45"/><circle cx="1181.1" cy="293.9" r="8.5" fill="none" stroke="#ad972c" stroke-width="3.2" stroke-opacity="0.45"/><circle cx="1195.7" cy="303.6" r="10" fill="#ad972c" fill-opacity="0.45"/><circle cx="1208.7" cy="293.9" r="10" fill="#ad972c" fill-opacity="0.45"/><circle cx="1224.9" cy="290.6" r="10" fill="#ad972c" fill-opacity="0.45"/><circle cx="1254.1" cy="297.1" r="10" fill="#ad972c" fill-opacity="0.45"/><circle cx="1255.7" cy="303.6" r="10" fill="#ad972c" fill-opacity="0.45"/><circle cx="1273.6" cy="293.9" r="10" fill="#ad972c" fill-opacity="0.45"/><circle cx="1280.1" cy="303.6" r="10" fill="#ad972c" fill-opacity="0.45"/><circle cx="1294.7" cy="289" r="10" fill="#ad972c" fill-opacity="0.45"/><circle cx="1315.8" cy="293.9" r="10" fill="#ad972c" fill-opacity="0.45"/><circle cx="1314.2" cy="303.6" r="10" fill="#ad972c" fill-opacity="0.45"/><circle cx="1349" cy="297.9" r="10" fill="#ad972c" fill-opacity="0.45"/><circle cx="1233" cy="315" r="10" fill="#ad972c" fill-opacity="0.45"/><circle cx="1202.2" cy="315" r="10" fill="#ad972c" fill-opacity="0.45"/><circle cx="1294.7" cy="315" r="10" fill="#ad972c" fill-opacity="0.45"/><circle cx="1302.8" cy="315" r="10" fill="#ad972c" fill-opacity="0.45"/><circle cx="1097.8" cy="337.8" r="10" fill="#ad972c" fill-opacity="0.45"/><circle cx="1127.9" cy="332.5" r="10" fill="#ad972c" fill-opacity="0.45"/><circle cx="1083.7" cy="352.3" r="10" fill="#ad972c" fill-opacity="0.45"/><circle cx="1080" cy="361.7" r="10" fill="#ad972c" fill-opacity="0.45"/><circle cx="1111.3" cy="372.2" r="8.5" fill="none" stroke="#ad972c" stroke-width="3.2" stroke-opacity="0.45"/><circle cx="1140" cy="371.4" r="10" fill="#ad972c" fill-opacity="0.45"/><circle cx="1152.2" cy="371.4" r="10" fill="#ad972c" fill-opacity="0.45"/><circle cx="951.8" cy="381.1" r="10" fill="#ad972c" fill-opacity="0.45"/><circle cx="1127.1" cy="400.3" r="10" fill="#ad972c" fill-opacity="0.45"/><circle cx="1161.1" cy="400.6" r="10" fill="#ad972c" fill-opacity="0.45"/><circle cx="1071.9" cy="444.1" r="10" fill="#ad972c" fill-opacity="0.45"/><circle cx="1127.9" cy="438.7" r="10" fill="#ad972c" fill-opacity="0.45"/><circle cx="1166" cy="434.7" r="10" fill="#ad972c" fill-opacity="0.45"/><circle cx="1085.7" cy="471.7" r="10" fill="#ad972c" fill-opacity="0.45"/><circle cx="1156.7" cy="465.8" r="10" fill="#ad972c" fill-opacity="0.45"/><circle cx="1179.5" cy="324.3" r="10" fill="#ad972c" fill-opacity="0.45"/><circle cx="1200.6" cy="318.2" r="10" fill="#ad972c" fill-opacity="0.45"/><circle cx="1200.6" cy="332.5" r="10" fill="#ad972c" fill-opacity="0.45"/><circle cx="1196.5" cy="347.1" r="10" fill="#ad972c" fill-opacity="0.45"/><circle cx="1184.3" cy="354.4" r="10" fill="#ad972c" fill-opacity="0.45"/><circle cx="1207.1" cy="357.6" r="10" fill="#ad972c" fill-opacity="0.45"/><circle cx="1194.1" cy="364.9" r="10" fill="#ad972c" fill-opacity="0.45"/><circle cx="1204.6" cy="370.6" r="10" fill="#ad972c" fill-opacity="0.45"/><circle cx="1229.5" cy="351.9" r="10" fill="#ad972c" fill-opacity="0.45"/><circle cx="1236.3" cy="319.5" r="10" fill="#ad972c" fill-opacity="0.45"/><circle cx="1239.5" cy="336.5" r="10" fill="#ad972c" fill-opacity="0.45"/><circle cx="1267.9" cy="320.3" r="10" fill="#ad972c" fill-opacity="0.45"/><circle cx="1296.3" cy="318.2" r="10" fill="#ad972c" fill-opacity="0.45"/><circle cx="1306" cy="319.1" r="10" fill="#ad972c" fill-opacity="0.45"/><circle cx="1262.2" cy="354.4" r="10" fill="#ad972c" fill-opacity="0.45"/><circle cx="1252.5" cy="362.5" r="10" fill="#ad972c" fill-opacity="0.45"/><circle cx="1254.1" cy="375.5" r="10" fill="#ad972c" fill-opacity="0.45"/><circle cx="1252.2" cy="393.3" r="10" fill="#ad972c" fill-opacity="0.45"/><circle cx="1228.2" cy="381.1" r="10" fill="#ad972c" fill-opacity="0.45"/><circle cx="1173.8" cy="390.5" r="10" fill="#ad972c" fill-opacity="0.45"/><circle cx="1229" cy="421.4" r="10" fill="#ad972c" fill-opacity="0.45"/><circle cx="1177.8" cy="432.3" r="10" fill="#ad972c" fill-opacity="0.45"/><circle cx="1190" cy="432.3" r="10" fill="#ad972c" fill-opacity="0.45"/><circle cx="1203" cy="431.4" r="10" fill="#ad972c" fill-opacity="0.45"/><circle cx="1173.8" cy="457.4" r="10" fill="#ad972c" fill-opacity="0.45"/><circle cx="1176.2" cy="463.1" r="10" fill="#ad972c" fill-opacity="0.45"/><circle cx="1250.9" cy="493.1" r="10" fill="#ad972c" fill-opacity="0.45"/><circle cx="1241.9" cy="568.6" r="10" fill="#ad972c" fill-opacity="0.45"/></g>
<line x1="1035" y1="469" x2="1394.5" y2="77.1" stroke="#af9632" stroke-width="8.5"/>
<path d="M852.5 18.7 V595.1 H1477" fill="none" stroke="#000" stroke-width="2.8" stroke-linecap="butt" stroke-linejoin="miter"/>
<line x1="840.2" y1="174.5" x2="852.5" y2="174.5" stroke="#000" stroke-width="2.8"/>
<line x1="840.2" y1="332.1" x2="852.5" y2="332.1" stroke="#000" stroke-width="2.8"/>
<line x1="840.2" y1="489.7" x2="852.5" y2="489.7" stroke="#000" stroke-width="2.8"/>
<line x1="934.5" y1="595.1" x2="934.5" y2="607.4" stroke="#000" stroke-width="2.8"/>
<text x="934.5" y="638.0" class="xl">10</text>
<line x1="1083.5" y1="595.1" x2="1083.5" y2="607.4" stroke="#000" stroke-width="2.8"/>
<text x="1083.5" y="638.0" class="xl">30</text>
<line x1="1247" y1="595.1" x2="1247" y2="607.4" stroke="#000" stroke-width="2.8"/>
<text x="1247" y="638.0" class="xl">100</text>
<line x1="1396" y1="595.1" x2="1396" y2="607.4" stroke="#000" stroke-width="2.8"/>
<text x="1396" y="638.0" class="xl">300</text>
<text x="779.2" y="26.8" class="pl">b</text>
<text x="868.8" y="54.7" class="lt">Tropic</text>
<g><circle cx="1825.2" cy="44.5" r="10" fill="#2d6eb9" fill-opacity="0.42"/><circle cx="1854.4" cy="87" r="10" fill="#2d6eb9" fill-opacity="0.42"/><circle cx="1653.7" cy="142.1" r="10" fill="#2d6eb9" fill-opacity="0.42"/><circle cx="1826" cy="142.1" r="10" fill="#2d6eb9" fill-opacity="0.42"/><circle cx="1826" cy="142.1" r="8.5" fill="none" stroke="#2d6eb9" stroke-width="3.2" stroke-opacity="0.42"/><circle cx="1634.6" cy="171" r="10" fill="#2d6eb9" fill-opacity="0.42"/><circle cx="1781.4" cy="170.5" r="10" fill="#2d6eb9" fill-opacity="0.42"/><circle cx="1782.2" cy="183.5" r="10" fill="#2d6eb9" fill-opacity="0.42"/><circle cx="1773.3" cy="190" r="10" fill="#2d6eb9" fill-opacity="0.42"/><circle cx="1782.2" cy="195.7" r="10" fill="#2d6eb9" fill-opacity="0.42"/><circle cx="1755.8" cy="201.4" r="8.5" fill="none" stroke="#2d6eb9" stroke-width="3.2" stroke-opacity="0.42"/><circle cx="1747.3" cy="215.2" r="8.5" fill="none" stroke="#2d6eb9" stroke-width="3.2" stroke-opacity="0.42"/><circle cx="1755.4" cy="227.3" r="10" fill="#2d6eb9" fill-opacity="0.42"/><circle cx="1807.4" cy="196.5" r="10" fill="#2d6eb9" fill-opacity="0.42"/><circle cx="1812.2" cy="196.5" r="10" fill="#2d6eb9" fill-opacity="0.42"/><circle cx="1822.8" cy="193.3" r="10" fill="#2d6eb9" fill-opacity="0.42"/><circle cx="1838.2" cy="194.1" r="10" fill="#2d6eb9" fill-opacity="0.42"/><circle cx="1839.8" cy="199.7" r="10" fill="#2d6eb9" fill-opacity="0.42"/><circle cx="1851.2" cy="186" r="10" fill="#2d6eb9" fill-opacity="0.42"/><circle cx="1856.1" cy="175.4" r="10" fill="#2d6eb9" fill-opacity="0.42"/><circle cx="1566.9" cy="226.8" r="10" fill="#2d6eb9" fill-opacity="0.42"/><circle cx="1669.4" cy="229" r="10" fill="#2d6eb9" fill-opacity="0.42"/><circle cx="1689.7" cy="225.4" r="10" fill="#2d6eb9" fill-opacity="0.42"/><circle cx="1734.3" cy="236.3" r="10" fill="#2d6eb9" fill-opacity="0.42"/><circle cx="1736.8" cy="247.6" r="10" fill="#2d6eb9" fill-opacity="0.42"/><circle cx="1740.8" cy="260.6" r="10" fill="#2d6eb9" fill-opacity="0.42"/><circle cx="1736.8" cy="267.1" r="10" fill="#2d6eb9" fill-opacity="0.42"/><circle cx="1746.5" cy="284.1" r="10" fill="#2d6eb9" fill-opacity="0.42"/><circle cx="1652.9" cy="256.9" r="10" fill="#2d6eb9" fill-opacity="0.42"/><circle cx="1663.4" cy="290.6" r="8.5" fill="none" stroke="#2d6eb9" stroke-width="3.2" stroke-opacity="0.42"/><circle cx="1792.8" cy="234.6" r="10" fill="#2d6eb9" fill-opacity="0.42"/><circle cx="1809" cy="233.8" r="10" fill="#2d6eb9" fill-opacity="0.42"/><circle cx="1816.3" cy="219.2" r="10" fill="#2d6eb9" fill-opacity="0.42"/><circle cx="1818.7" cy="247.6" r="10" fill="#2d6eb9" fill-opacity="0.42"/><circle cx="1823.6" cy="260.6" r="10" fill="#2d6eb9" fill-opacity="0.42"/><circle cx="1796" cy="267.9" r="10" fill="#2d6eb9" fill-opacity="0.42"/><circle cx="1799.3" cy="280.9" r="10" fill="#2d6eb9" fill-opacity="0.42"/><circle cx="1814.7" cy="280.1" r="10" fill="#2d6eb9" fill-opacity="0.42"/><circle cx="1820.4" cy="285.7" r="10" fill="#2d6eb9" fill-opacity="0.42"/><circle cx="1826.8" cy="287.4" r="10" fill="#2d6eb9" fill-opacity="0.42"/><circle cx="1838.2" cy="222.5" r="10" fill="#2d6eb9" fill-opacity="0.42"/><circle cx="1839.8" cy="236.3" r="10" fill="#2d6eb9" fill-opacity="0.42"/><circle cx="1844.7" cy="254.1" r="10" fill="#2d6eb9" fill-opacity="0.42"/><circle cx="1851.2" cy="224.1" r="10" fill="#2d6eb9" fill-opacity="0.42"/><circle cx="1851.2" cy="241.9" r="10" fill="#2d6eb9" fill-opacity="0.42"/><circle cx="1856.1" cy="230.6" r="10" fill="#2d6eb9" fill-opacity="0.42"/><circle cx="1856.1" cy="264.7" r="10" fill="#2d6eb9" fill-opacity="0.42"/><circle cx="1787.9" cy="301.2" r="10" fill="#2d6eb9" fill-opacity="0.42"/><circle cx="1804.1" cy="302" r="10" fill="#2d6eb9" fill-opacity="0.42"/><circle cx="1813.9" cy="306.8" r="10" fill="#2d6eb9" fill-opacity="0.42"/><circle cx="1820.4" cy="303.6" r="10" fill="#2d6eb9" fill-opacity="0.42"/><circle cx="1836.6" cy="297.1" r="10" fill="#2d6eb9" fill-opacity="0.42"/><circle cx="1849.6" cy="295.5" r="10" fill="#2d6eb9" fill-opacity="0.42"/><circle cx="1844.7" cy="315" r="10" fill="#2d6eb9" fill-opacity="0.42"/><circle cx="1729.5" cy="305.2" r="10" fill="#2d6eb9" fill-opacity="0.42"/><circle cx="1723.8" cy="316.6" r="10" fill="#2d6eb9" fill-opacity="0.42"/><circle cx="1684" cy="313.3" r="10" fill="#2d6eb9" fill-opacity="0.42"/><circle cx="1766.8" cy="317.4" r="10" fill="#2d6eb9" fill-opacity="0.42"/><circle cx="1972.7" cy="71.5" r="10" fill="#2d6eb9" fill-opacity="0.42"/><circle cx="2134.5" cy="85" r="10" fill="#2d6eb9" fill-opacity="0.42"/><circle cx="1873.3" cy="122.7" r="10" fill="#2d6eb9" fill-opacity="0.42"/><circle cx="1871.6" cy="147.3" r="10" fill="#2d6eb9" fill-opacity="0.42"/><circle cx="1883.5" cy="139.7" r="10" fill="#2d6eb9" fill-opacity="0.42"/><circle cx="1898.7" cy="145.4" r="10" fill="#2d6eb9" fill-opacity="0.42"/><circle cx="1966.9" cy="144.6" r="10" fill="#2d6eb9" fill-opacity="0.42"/><circle cx="1976" cy="149.4" r="10" fill="#2d6eb9" fill-opacity="0.42"/><circle cx="1979.2" cy="168.1" r="10" fill="#2d6eb9" fill-opacity="0.42"/><circle cx="1994.2" cy="167.6" r="10" fill="#2d6eb9" fill-opacity="0.42"/><circle cx="2050.6" cy="147" r="10" fill="#2d6eb9" fill-opacity="0.42"/><circle cx="2071.7" cy="131.1" r="10" fill="#2d6eb9" fill-opacity="0.42"/><circle cx="1861.9" cy="178.6" r="10" fill="#2d6eb9" fill-opacity="0.42"/><circle cx="1877.6" cy="199.3" r="8.5" fill="none" stroke="#2d6eb9" stroke-width="3.2" stroke-opacity="0.42"/><circle cx="1911.4" cy="179.5" r="10" fill="#2d6eb9" fill-opacity="0.42"/><circle cx="1912.2" cy="181.9" r="10" fill="#2d6eb9" fill-opacity="0.42"/><circle cx="1913" cy="198.9" r="10" fill="#2d6eb9" fill-opacity="0.42"/><circle cx="1913" cy="198.9" r="8.5" fill="none" stroke="#2d6eb9" stroke-width="3.2" stroke-opacity="0.42"/><circle cx="1938.2" cy="176.5" r="10" fill="#2d6eb9" fill-opacity="0.42"/><circle cx="1941.9" cy="202.5" r="10" fill="#2d6eb9" fill-opacity="0.42"/><circle cx="1982.8" cy="201.9" r="10" fill="#2d6eb9" fill-opacity="0.42"/><circle cx="1860.3" cy="229" r="10" fill="#2d6eb9" fill-opacity="0.42"/><circle cx="1872.5" cy="238.7" r="10" fill="#2d6eb9" fill-opacity="0.42"/><circle cx="1874.9" cy="240.3" r="10" fill="#2d6eb9" fill-opacity="0.42"/><circle cx="1904.9" cy="235.4" r="10" fill="#2d6eb9" fill-opacity="0.42"/><circle cx="1932" cy="226.8" r="10" fill="#2d6eb9" fill-opacity="0.42"/><circle cx="1983.6" cy="227.3" r="10" fill="#2d6eb9" fill-opacity="0.42"/><circle cx="1991.7" cy="232.2" r="10" fill="#2d6eb9" fill-opacity="0.42"/><circle cx="1988" cy="253.6" r="10" fill="#2d6eb9" fill-opacity="0.42"/><circle cx="2052.1" cy="227.8" r="10" fill="#2d6eb9" fill-opacity="0.42"/><circle cx="1858.7" cy="264.7" r="10" fill="#2d6eb9" fill-opacity="0.42"/><circle cx="1864.3" cy="276" r="10" fill="#2d6eb9" fill-opacity="0.42"/><circle cx="1887.1" cy="270.3" r="10" fill="#2d6eb9" fill-opacity="0.42"/><circle cx="1900" cy="271.1" r="10" fill="#2d6eb9" fill-opacity="0.42"/><circle cx="1913.8" cy="261.4" r="10" fill="#2d6eb9" fill-opacity="0.42"/><circle cx="1926.8" cy="277.6" r="10" fill="#2d6eb9" fill-opacity="0.42"/><circle cx="1947.1" cy="271.1" r="10" fill="#2d6eb9" fill-opacity="0.42"/><circle cx="1946.3" cy="289" r="10" fill="#2d6eb9" fill-opacity="0.42"/><circle cx="1964.1" cy="291.4" r="10" fill="#2d6eb9" fill-opacity="0.42"/><circle cx="2021.7" cy="279.3" r="10" fill="#2d6eb9" fill-opacity="0.42"/><circle cx="2001.5" cy="292.2" r="10" fill="#2d6eb9" fill-opacity="0.42"/><circle cx="2012" cy="293.9" r="10" fill="#2d6eb9" fill-opacity="0.42"/><circle cx="2020.9" cy="303.6" r="10" fill="#2d6eb9" fill-opacity="0.42"/><circle cx="2063.1" cy="304.4" r="10" fill="#2d6eb9" fill-opacity="0.42"/><circle cx="1995" cy="316.6" r="10" fill="#2d6eb9" fill-opacity="0.42"/><circle cx="2012.8" cy="315" r="10" fill="#2d6eb9" fill-opacity="0.42"/><circle cx="1960.1" cy="308.5" r="10" fill="#2d6eb9" fill-opacity="0.42"/><circle cx="1933.3" cy="303.6" r="10" fill="#2d6eb9" fill-opacity="0.42"/><circle cx="1913.8" cy="308.5" r="10" fill="#2d6eb9" fill-opacity="0.42"/><circle cx="1896" cy="317.4" r="10" fill="#2d6eb9" fill-opacity="0.42"/><circle cx="1878.9" cy="297.1" r="10" fill="#2d6eb9" fill-opacity="0.42"/><circle cx="1885.4" cy="295.5" r="10" fill="#2d6eb9" fill-opacity="0.42"/><circle cx="1866" cy="305.2" r="10" fill="#2d6eb9" fill-opacity="0.42"/><circle cx="1872.5" cy="317.4" r="10" fill="#2d6eb9" fill-opacity="0.42"/><circle cx="1766.8" cy="324.3" r="10" fill="#2d6eb9" fill-opacity="0.42"/><circle cx="1770.9" cy="327.6" r="8.5" fill="none" stroke="#2d6eb9" stroke-width="3.2" stroke-opacity="0.42"/><circle cx="1791.1" cy="331.6" r="8.5" fill="none" stroke="#2d6eb9" stroke-width="3.2" stroke-opacity="0.42"/><circle cx="1795.2" cy="328.4" r="10" fill="#2d6eb9" fill-opacity="0.42"/><circle cx="1809" cy="334.1" r="10" fill="#2d6eb9" fill-opacity="0.42"/><circle cx="1754.6" cy="341.4" r="10" fill="#2d6eb9" fill-opacity="0.42"/><circle cx="1753.8" cy="351.9" r="10" fill="#2d6eb9" fill-opacity="0.42"/><circle cx="1734.3" cy="351.6" r="10" fill="#2d6eb9" fill-opacity="0.42"/><circle cx="1779.8" cy="347.1" r="10" fill="#2d6eb9" fill-opacity="0.42"/><circle cx="1782.2" cy="352.7" r="10" fill="#2d6eb9" fill-opacity="0.42"/><circle cx="1800.9" cy="350.3" r="10" fill="#2d6eb9" fill-opacity="0.42"/><circle cx="1790.3" cy="362.5" r="10" fill="#2d6eb9" fill-opacity="0.42"/><circle cx="1774.9" cy="369.8" r="10" fill="#2d6eb9" fill-opacity="0.42"/><circle cx="1777.4" cy="380.3" r="10" fill="#2d6eb9" fill-opacity="0.42"/><circle cx="1839.8" cy="369.8" r="10" fill="#2d6eb9" fill-opacity="0.42"/><circle cx="1842.3" cy="371.4" r="10" fill="#2d6eb9" fill-opacity="0.42"/><circle cx="1843.1" cy="381.1" r="10" fill="#2d6eb9" fill-opacity="0.42"/><circle cx="1854.4" cy="386" r="10" fill="#2d6eb9" fill-opacity="0.42"/><circle cx="1856.1" cy="341.4" r="10" fill="#2d6eb9" fill-opacity="0.42"/><circle cx="1847.1" cy="362.5" r="10" fill="#2d6eb9" fill-opacity="0.42"/><circle cx="1856.1" cy="363.3" r="10" fill="#2d6eb9" fill-opacity="0.42"/><circle cx="1724.6" cy="386.8" r="10" fill="#2d6eb9" fill-opacity="0.42"/><circle cx="1723" cy="397.4" r="10" fill="#2d6eb9" fill-opacity="0.42"/><circle cx="1727" cy="403.9" r="10" fill="#2d6eb9" fill-opacity="0.42"/><circle cx="1705.1" cy="414.4" r="10" fill="#2d6eb9" fill-opacity="0.42"/><circle cx="1715.7" cy="420.1" r="10" fill="#2d6eb9" fill-opacity="0.42"/><circle cx="1738.4" cy="419.3" r="10" fill="#2d6eb9" fill-opacity="0.42"/><circle cx="1696.2" cy="428.2" r="8.5" fill="none" stroke="#2d6eb9" stroke-width="3.2" stroke-opacity="0.42"/><circle cx="1773.3" cy="424.1" r="10" fill="#2d6eb9" fill-opacity="0.42"/><circle cx="1797.6" cy="406.3" r="10" fill="#2d6eb9" fill-opacity="0.42"/><circle cx="1796" cy="411.2" r="10" fill="#2d6eb9" fill-opacity="0.42"/><circle cx="1804.9" cy="427.4" r="10" fill="#2d6eb9" fill-opacity="0.42"/><circle cx="1854.4" cy="437.6" r="10" fill="#2d6eb9" fill-opacity="0.42"/><circle cx="1648.3" cy="497.2" r="10" fill="#2d6eb9" fill-opacity="0.42"/><circle cx="1672.7" cy="532.9" r="10" fill="#2d6eb9" fill-opacity="0.42"/><circle cx="1757.9" cy="499.9" r="10" fill="#2d6eb9" fill-opacity="0.42"/><circle cx="1775.2" cy="484.5" r="10" fill="#2d6eb9" fill-opacity="0.42"/><circle cx="1779.8" cy="543.4" r="10" fill="#2d6eb9" fill-opacity="0.42"/><circle cx="1794.4" cy="536.9" r="10" fill="#2d6eb9" fill-opacity="0.42"/><circle cx="1851.2" cy="496.3" r="10" fill="#2d6eb9" fill-opacity="0.42"/><circle cx="1854.4" cy="511" r="10" fill="#2d6eb9" fill-opacity="0.42"/><circle cx="1874.1" cy="321.1" r="10" fill="#2d6eb9" fill-opacity="0.42"/><circle cx="1878.9" cy="324.3" r="10" fill="#2d6eb9" fill-opacity="0.42"/><circle cx="1883" cy="330" r="10" fill="#2d6eb9" fill-opacity="0.42"/><circle cx="1887.1" cy="334.9" r="10" fill="#2d6eb9" fill-opacity="0.42"/><circle cx="1896.8" cy="319.5" r="10" fill="#2d6eb9" fill-opacity="0.42"/><circle cx="1906.5" cy="332.5" r="10" fill="#2d6eb9" fill-opacity="0.42"/><circle cx="1916.3" cy="334.9" r="10" fill="#2d6eb9" fill-opacity="0.42"/><circle cx="1917.9" cy="347.9" r="10" fill="#2d6eb9" fill-opacity="0.42"/><circle cx="1934.9" cy="334.9" r="10" fill="#2d6eb9" fill-opacity="0.42"/><circle cx="1859.5" cy="340.6" r="10" fill="#2d6eb9" fill-opacity="0.42"/><circle cx="1877" cy="347.9" r="10" fill="#2d6eb9" fill-opacity="0.42"/><circle cx="1961.7" cy="339.8" r="10" fill="#2d6eb9" fill-opacity="0.42"/><circle cx="1995" cy="318.2" r="10" fill="#2d6eb9" fill-opacity="0.42"/><circle cx="2012.8" cy="336" r="10" fill="#2d6eb9" fill-opacity="0.42"/><circle cx="2032.3" cy="329.5" r="10" fill="#2d6eb9" fill-opacity="0.42"/><circle cx="1954.4" cy="358.7" r="10" fill="#2d6eb9" fill-opacity="0.42"/><circle cx="1966.6" cy="363.3" r="10" fill="#2d6eb9" fill-opacity="0.42"/><circle cx="2017.2" cy="364.9" r="10" fill="#2d6eb9" fill-opacity="0.42"/><circle cx="1900.9" cy="359.2" r="10" fill="#2d6eb9" fill-opacity="0.42"/><circle cx="1869.2" cy="364.9" r="10" fill="#2d6eb9" fill-opacity="0.42"/><circle cx="1859.5" cy="363.3" r="10" fill="#2d6eb9" fill-opacity="0.42"/><circle cx="1881.9" cy="406.8" r="10" fill="#2d6eb9" fill-opacity="0.42"/><circle cx="1908.2" cy="437.9" r="10" fill="#2d6eb9" fill-opacity="0.42"/><circle cx="1896" cy="447.7" r="10" fill="#2d6eb9" fill-opacity="0.42"/><circle cx="1899.2" cy="450.9" r="10" fill="#2d6eb9" fill-opacity="0.42"/><circle cx="1904.1" cy="459.8" r="10" fill="#2d6eb9" fill-opacity="0.42"/><circle cx="1930.5" cy="430.6" r="10" fill="#2d6eb9" fill-opacity="0.42"/><circle cx="1973.4" cy="426.6" r="10" fill="#2d6eb9" fill-opacity="0.42"/><circle cx="1985.2" cy="416.8" r="10" fill="#2d6eb9" fill-opacity="0.42"/><circle cx="1931.7" cy="505.3" r="10" fill="#2d6eb9" fill-opacity="0.42"/><circle cx="1973.9" cy="526.4" r="10" fill="#2d6eb9" fill-opacity="0.42"/><circle cx="1978.3" cy="568.6" r="10" fill="#2d6eb9" fill-opacity="0.42"/></g>
<path d="M1538.5 18.7 V595.1 H2162" fill="none" stroke="#000" stroke-width="2.8" stroke-linecap="butt" stroke-linejoin="miter"/>
<line x1="1526.2" y1="104.4" x2="1538.5" y2="104.4" stroke="#000" stroke-width="2.8"/>
<line x1="1526.2" y1="288.4" x2="1538.5" y2="288.4" stroke="#000" stroke-width="2.8"/>
<line x1="1526.2" y1="472.2" x2="1538.5" y2="472.2" stroke="#000" stroke-width="2.8"/>
<line x1="1634.3" y1="595.1" x2="1634.3" y2="607.4" stroke="#000" stroke-width="2.8"/>
<text x="1634.3" y="638.0" class="xl">3</text>
<line x1="1781" y1="595.1" x2="1781" y2="607.4" stroke="#000" stroke-width="2.8"/>
<text x="1781" y="638.0" class="xl">5</text>
<line x1="1979.4" y1="595.1" x2="1979.4" y2="607.4" stroke="#000" stroke-width="2.8"/>
<text x="1979.4" y="638.0" class="xl">10</text>
<text x="1478.8" y="26.7" class="pl">c</text>
<text x="1570.6" y="54.5" class="lt">Tropic</text>
<g><circle cx="351" cy="725" r="10" fill="#50a082" fill-opacity="0.4"/><circle cx="479.2" cy="731.5" r="10" fill="#50a082" fill-opacity="0.4"/><circle cx="337.2" cy="763.1" r="8.5" fill="none" stroke="#50a082" stroke-width="3.2" stroke-opacity="0.4"/><circle cx="462.1" cy="760.7" r="10" fill="#50a082" fill-opacity="0.4"/><circle cx="290.9" cy="795.6" r="10" fill="#50a082" fill-opacity="0.4"/><circle cx="307.2" cy="791.5" r="10" fill="#50a082" fill-opacity="0.4"/><circle cx="400.5" cy="792.3" r="8.5" fill="none" stroke="#50a082" stroke-width="3.2" stroke-opacity="0.4"/><circle cx="411.8" cy="802" r="8.5" fill="none" stroke="#50a082" stroke-width="3.2" stroke-opacity="0.4"/><circle cx="452.4" cy="794.7" r="10" fill="#50a082" fill-opacity="0.4"/><circle cx="452.4" cy="810.2" r="8.5" fill="none" stroke="#50a082" stroke-width="3.2" stroke-opacity="0.4"/><circle cx="256.1" cy="833.7" r="8.5" fill="none" stroke="#50a082" stroke-width="3.2" stroke-opacity="0.4"/><circle cx="256.9" cy="834.5" r="8.5" fill="none" stroke="#50a082" stroke-width="3.2" stroke-opacity="0.4"/><circle cx="351" cy="828.8" r="8.5" fill="none" stroke="#50a082" stroke-width="3.2" stroke-opacity="0.4"/><circle cx="377" cy="825.6" r="8.5" fill="none" stroke="#50a082" stroke-width="3.2" stroke-opacity="0.4"/><circle cx="452.4" cy="836.1" r="8.5" fill="none" stroke="#50a082" stroke-width="3.2" stroke-opacity="0.4"/><circle cx="471.1" cy="834.5" r="10" fill="#50a082" fill-opacity="0.4"/><circle cx="322.6" cy="848.3" r="8.5" fill="none" stroke="#50a082" stroke-width="3.2" stroke-opacity="0.4"/><circle cx="337.2" cy="858.8" r="10" fill="#50a082" fill-opacity="0.4"/><circle cx="337.2" cy="861.3" r="10" fill="#50a082" fill-opacity="0.4"/><circle cx="337.2" cy="873.4" r="10" fill="#50a082" fill-opacity="0.4"/><circle cx="256.1" cy="862.1" r="10" fill="#50a082" fill-opacity="0.4"/><circle cx="400.5" cy="843.4" r="10" fill="#50a082" fill-opacity="0.4"/><circle cx="400.5" cy="859.6" r="10" fill="#50a082" fill-opacity="0.4"/><circle cx="411.8" cy="865.3" r="10" fill="#50a082" fill-opacity="0.4"/><circle cx="432.9" cy="847.5" r="10" fill="#50a082" fill-opacity="0.4"/><circle cx="432.9" cy="861.3" r="10" fill="#50a082" fill-opacity="0.4"/><circle cx="442.7" cy="873.4" r="10" fill="#50a082" fill-opacity="0.4"/><circle cx="400.5" cy="879.1" r="10" fill="#50a082" fill-opacity="0.4"/><circle cx="432.9" cy="886.4" r="10" fill="#50a082" fill-opacity="0.4"/><circle cx="462.1" cy="886.4" r="10" fill="#50a082" fill-opacity="0.4"/><circle cx="364" cy="884.8" r="10" fill="#50a082" fill-opacity="0.4"/><circle cx="194.9" cy="889.7" r="10" fill="#50a082" fill-opacity="0.4"/><circle cx="307.2" cy="886.4" r="8.5" fill="none" stroke="#50a082" stroke-width="3.2" stroke-opacity="0.4"/><circle cx="307.2" cy="905.1" r="8.5" fill="none" stroke="#50a082" stroke-width="3.2" stroke-opacity="0.4"/><circle cx="308" cy="904.3" r="8.5" fill="none" stroke="#50a082" stroke-width="3.2" stroke-opacity="0.4"/><circle cx="322.6" cy="899.4" r="10" fill="#50a082" fill-opacity="0.4"/><circle cx="274.7" cy="904.3" r="10" fill="#50a082" fill-opacity="0.4"/><circle cx="290.9" cy="919.7" r="10" fill="#50a082" fill-opacity="0.4"/><circle cx="322.6" cy="918.1" r="10" fill="#50a082" fill-opacity="0.4"/><circle cx="322.6" cy="924.6" r="10" fill="#50a082" fill-opacity="0.4"/><circle cx="337.2" cy="922.1" r="8.5" fill="none" stroke="#50a082" stroke-width="3.2" stroke-opacity="0.4"/><circle cx="351" cy="918.9" r="10" fill="#50a082" fill-opacity="0.4"/><circle cx="364" cy="922.9" r="10" fill="#50a082" fill-opacity="0.4"/><circle cx="377" cy="916.4" r="10" fill="#50a082" fill-opacity="0.4"/><circle cx="377" cy="926.2" r="10" fill="#50a082" fill-opacity="0.4"/><circle cx="377" cy="935.9" r="10" fill="#50a082" fill-opacity="0.4"/><circle cx="400.5" cy="925.4" r="10" fill="#50a082" fill-opacity="0.4"/><circle cx="400.5" cy="936.7" r="10" fill="#50a082" fill-opacity="0.4"/><circle cx="411.8" cy="926.2" r="10" fill="#50a082" fill-opacity="0.4"/><circle cx="411.8" cy="935.9" r="10" fill="#50a082" fill-opacity="0.4"/><circle cx="422.4" cy="929.4" r="10" fill="#50a082" fill-opacity="0.4"/><circle cx="422.4" cy="897.8" r="8.5" fill="none" stroke="#50a082" stroke-width="3.2" stroke-opacity="0.4"/><circle cx="411.8" cy="905.9" r="10" fill="#50a082" fill-opacity="0.4"/><circle cx="400.5" cy="902.7" r="10" fill="#50a082" fill-opacity="0.4"/><circle cx="462.1" cy="916.4" r="10" fill="#50a082" fill-opacity="0.4"/><circle cx="484.1" cy="866.1" r="10" fill="#50a082" fill-opacity="0.4"/><circle cx="484.1" cy="947.3" r="10" fill="#50a082" fill-opacity="0.4"/><circle cx="236.6" cy="952.1" r="8.5" fill="none" stroke="#50a082" stroke-width="3.2" stroke-opacity="0.4"/><circle cx="236.6" cy="962.7" r="10" fill="#50a082" fill-opacity="0.4"/><circle cx="256.1" cy="953" r="10" fill="#50a082" fill-opacity="0.4"/><circle cx="274.7" cy="948.1" r="10" fill="#50a082" fill-opacity="0.4"/><circle cx="307.2" cy="960.3" r="10" fill="#50a082" fill-opacity="0.4"/><circle cx="322.6" cy="965.9" r="10" fill="#50a082" fill-opacity="0.4"/><circle cx="337.2" cy="960.3" r="10" fill="#50a082" fill-opacity="0.4"/><circle cx="337.2" cy="974.9" r="10" fill="#50a082" fill-opacity="0.4"/><circle cx="377" cy="952.1" r="10" fill="#50a082" fill-opacity="0.4"/><circle cx="377" cy="958.6" r="10" fill="#50a082" fill-opacity="0.4"/><circle cx="389.1" cy="953.8" r="10" fill="#50a082" fill-opacity="0.4"/><circle cx="364" cy="969.2" r="10" fill="#50a082" fill-opacity="0.4"/><circle cx="377" cy="976.5" r="10" fill="#50a082" fill-opacity="0.4"/><circle cx="389.1" cy="978.1" r="10" fill="#50a082" fill-opacity="0.4"/><circle cx="400.5" cy="989.5" r="10" fill="#50a082" fill-opacity="0.4"/><circle cx="411.8" cy="971.6" r="10" fill="#50a082" fill-opacity="0.4"/><circle cx="422.4" cy="981.4" r="10" fill="#50a082" fill-opacity="0.4"/><circle cx="422.4" cy="989.5" r="10" fill="#50a082" fill-opacity="0.4"/><circle cx="432.9" cy="957" r="10" fill="#50a082" fill-opacity="0.4"/><circle cx="432.9" cy="965.1" r="10" fill="#50a082" fill-opacity="0.4"/><circle cx="442.7" cy="979.7" r="10" fill="#50a082" fill-opacity="0.4"/><circle cx="452.4" cy="996" r="8.5" fill="none" stroke="#50a082" stroke-width="3.2" stroke-opacity="0.4"/><circle cx="471.1" cy="955.4" r="10" fill="#50a082" fill-opacity="0.4"/><circle cx="484.1" cy="981.4" r="8.5" fill="none" stroke="#50a082" stroke-width="3.2" stroke-opacity="0.4"/><circle cx="217.1" cy="976.5" r="10" fill="#50a082" fill-opacity="0.4"/><circle cx="274.7" cy="974.9" r="10" fill="#50a082" fill-opacity="0.4"/><circle cx="290.9" cy="971.6" r="10" fill="#50a082" fill-opacity="0.4"/><circle cx="322.6" cy="986.2" r="10" fill="#50a082" fill-opacity="0.4"/><circle cx="307.2" cy="997.6" r="10" fill="#50a082" fill-opacity="0.4"/><circle cx="377" cy="997.6" r="10" fill="#50a082" fill-opacity="0.4"/><circle cx="582.8" cy="725" r="10" fill="#50a082" fill-opacity="0.4"/><circle cx="638.8" cy="747.2" r="10" fill="#50a082" fill-opacity="0.4"/><circle cx="550" cy="769.9" r="10" fill="#50a082" fill-opacity="0.4"/><circle cx="569.8" cy="775.6" r="10" fill="#50a082" fill-opacity="0.4"/><circle cx="668" cy="777.7" r="10" fill="#50a082" fill-opacity="0.4"/><circle cx="535.7" cy="793.6" r="10" fill="#50a082" fill-opacity="0.4"/><circle cx="653.9" cy="798" r="10" fill="#50a082" fill-opacity="0.4"/><circle cx="549.5" cy="809.3" r="10" fill="#50a082" fill-opacity="0.4"/><circle cx="563.3" cy="814.5" r="10" fill="#50a082" fill-opacity="0.4"/><circle cx="556.8" cy="819.9" r="10" fill="#50a082" fill-opacity="0.4"/><circle cx="556.8" cy="829.6" r="10" fill="#50a082" fill-opacity="0.4"/><circle cx="563.3" cy="841.8" r="10" fill="#50a082" fill-opacity="0.4"/><circle cx="513" cy="817.5" r="10" fill="#50a082" fill-opacity="0.4"/><circle cx="706.9" cy="812.6" r="10" fill="#50a082" fill-opacity="0.4"/><circle cx="694.7" cy="836.9" r="10" fill="#50a082" fill-opacity="0.4"/><circle cx="505.7" cy="853.2" r="10" fill="#50a082" fill-opacity="0.4"/><circle cx="496.8" cy="862.1" r="10" fill="#50a082" fill-opacity="0.4"/><circle cx="488.7" cy="867" r="10" fill="#50a082" fill-opacity="0.4"/><circle cx="564.1" cy="854.8" r="10" fill="#50a082" fill-opacity="0.4"/><circle cx="569.8" cy="859.6" r="10" fill="#50a082" fill-opacity="0.4"/><circle cx="582" cy="858.8" r="10" fill="#50a082" fill-opacity="0.4"/><circle cx="592.5" cy="854" r="10" fill="#50a082" fill-opacity="0.4"/><circle cx="594.9" cy="847.5" r="8.5" fill="none" stroke="#50a082" stroke-width="3.2" stroke-opacity="0.4"/><circle cx="612" cy="858" r="10" fill="#50a082" fill-opacity="0.4"/><circle cx="711" cy="863.7" r="10" fill="#50a082" fill-opacity="0.4"/><circle cx="762.9" cy="871" r="10" fill="#50a082" fill-opacity="0.4"/><circle cx="672.8" cy="883.2" r="10" fill="#50a082" fill-opacity="0.4"/><circle cx="694.7" cy="891.3" r="10" fill="#50a082" fill-opacity="0.4"/><circle cx="703.7" cy="893.7" r="10" fill="#50a082" fill-opacity="0.4"/><circle cx="723.1" cy="883.7" r="10" fill="#50a082" fill-opacity="0.4"/><circle cx="594.9" cy="888.9" r="10" fill="#50a082" fill-opacity="0.4"/><circle cx="606.3" cy="902.7" r="10" fill="#50a082" fill-opacity="0.4"/><circle cx="576.3" cy="901.8" r="10" fill="#50a082" fill-opacity="0.4"/><circle cx="542.2" cy="892.1" r="10" fill="#50a082" fill-opacity="0.4"/><circle cx="549.5" cy="897.8" r="10" fill="#50a082" fill-opacity="0.4"/><circle cx="556.8" cy="901.8" r="10" fill="#50a082" fill-opacity="0.4"/><circle cx="513" cy="897" r="10" fill="#50a082" fill-opacity="0.4"/><circle cx="520.3" cy="904.3" r="10" fill="#50a082" fill-opacity="0.4"/><circle cx="513" cy="908.3" r="10" fill="#50a082" fill-opacity="0.4"/><circle cx="505.7" cy="918.1" r="10" fill="#50a082" fill-opacity="0.4"/><circle cx="543" cy="917.3" r="10" fill="#50a082" fill-opacity="0.4"/><circle cx="549.5" cy="919.7" r="10" fill="#50a082" fill-opacity="0.4"/><circle cx="556.8" cy="922.1" r="10" fill="#50a082" fill-opacity="0.4"/><circle cx="550" cy="937.5" r="10" fill="#50a082" fill-opacity="0.4"/><circle cx="653.9" cy="905.1" r="10" fill="#50a082" fill-opacity="0.4"/><circle cx="681.8" cy="914" r="10" fill="#50a082" fill-opacity="0.4"/><circle cx="706.9" cy="918.9" r="10" fill="#50a082" fill-opacity="0.4"/><circle cx="628.2" cy="923.7" r="10" fill="#50a082" fill-opacity="0.4"/><circle cx="649" cy="930.2" r="10" fill="#50a082" fill-opacity="0.4"/><circle cx="617.7" cy="943.2" r="10" fill="#50a082" fill-opacity="0.4"/><circle cx="594.9" cy="947.3" r="10" fill="#50a082" fill-opacity="0.4"/><circle cx="488.7" cy="946.5" r="10" fill="#50a082" fill-opacity="0.4"/><circle cx="501.6" cy="960.3" r="10" fill="#50a082" fill-opacity="0.4"/><circle cx="528.4" cy="956.2" r="10" fill="#50a082" fill-opacity="0.4"/><circle cx="521.1" cy="966.7" r="10" fill="#50a082" fill-opacity="0.4"/><circle cx="549.5" cy="967.6" r="10" fill="#50a082" fill-opacity="0.4"/><circle cx="556.8" cy="970" r="8.5" fill="none" stroke="#50a082" stroke-width="3.2" stroke-opacity="0.4"/><circle cx="576.3" cy="964.3" r="10" fill="#50a082" fill-opacity="0.4"/><circle cx="488.7" cy="985.4" r="8.5" fill="none" stroke="#50a082" stroke-width="3.2" stroke-opacity="0.4"/><circle cx="513" cy="992.7" r="10" fill="#50a082" fill-opacity="0.4"/><circle cx="364" cy="1000.3" r="8.5" fill="none" stroke="#50a082" stroke-width="3.2" stroke-opacity="0.4"/><circle cx="307.2" cy="1006" r="10" fill="#50a082" fill-opacity="0.4"/><circle cx="290.9" cy="1013.3" r="10" fill="#50a082" fill-opacity="0.4"/><circle cx="307.2" cy="1031.9" r="10" fill="#50a082" fill-opacity="0.4"/><circle cx="322.6" cy="1043.3" r="10" fill="#50a082" fill-opacity="0.4"/><circle cx="377" cy="1018.1" r="10" fill="#50a082" fill-opacity="0.4"/><circle cx="389.1" cy="1025.4" r="10" fill="#50a082" fill-opacity="0.4"/><circle cx="400.5" cy="1010.8" r="10" fill="#50a082" fill-opacity="0.4"/><circle cx="400.5" cy="1021.4" r="10" fill="#50a082" fill-opacity="0.4"/><circle cx="480" cy="1010" r="10" fill="#50a082" fill-opacity="0.4"/><circle cx="480" cy="1018.9" r="10" fill="#50a082" fill-opacity="0.4"/><circle cx="274.7" cy="1069.2" r="10" fill="#50a082" fill-opacity="0.4"/><circle cx="290.9" cy="1069.2" r="10" fill="#50a082" fill-opacity="0.4"/><circle cx="307.2" cy="1062.8" r="10" fill="#50a082" fill-opacity="0.4"/><circle cx="307.2" cy="1075.7" r="8.5" fill="none" stroke="#50a082" stroke-width="3.2" stroke-opacity="0.4"/><circle cx="307.2" cy="1083.9" r="10" fill="#50a082" fill-opacity="0.4"/><circle cx="307.2" cy="1090.3" r="10" fill="#50a082" fill-opacity="0.4"/><circle cx="411.8" cy="1070.1" r="10" fill="#50a082" fill-opacity="0.4"/><circle cx="411.8" cy="1077.4" r="10" fill="#50a082" fill-opacity="0.4"/><circle cx="432.9" cy="1096.8" r="10" fill="#50a082" fill-opacity="0.4"/><circle cx="364" cy="1104.9" r="10" fill="#50a082" fill-opacity="0.4"/><circle cx="411.8" cy="1116.3" r="8.5" fill="none" stroke="#50a082" stroke-width="3.2" stroke-opacity="0.4"/><circle cx="480" cy="1104.9" r="10" fill="#50a082" fill-opacity="0.4"/><circle cx="194.9" cy="1132.5" r="10" fill="#50a082" fill-opacity="0.4"/><circle cx="216.8" cy="1128.5" r="10" fill="#50a082" fill-opacity="0.4"/><circle cx="256.5" cy="1159.3" r="10" fill="#50a082" fill-opacity="0.4"/><circle cx="351" cy="1173.1" r="8.5" fill="none" stroke="#50a082" stroke-width="3.2" stroke-opacity="0.4"/><circle cx="216.8" cy="1206.4" r="10" fill="#50a082" fill-opacity="0.4"/><circle cx="364" cy="1206.4" r="10" fill="#50a082" fill-opacity="0.4"/><circle cx="237.4" cy="1249.4" r="10" fill="#50a082" fill-opacity="0.4"/><circle cx="290.9" cy="1249.4" r="10" fill="#50a082" fill-opacity="0.4"/><circle cx="497.6" cy="1010" r="10" fill="#50a082" fill-opacity="0.4"/><circle cx="535.7" cy="1009.2" r="10" fill="#50a082" fill-opacity="0.4"/><circle cx="535.7" cy="1018.9" r="10" fill="#50a082" fill-opacity="0.4"/><circle cx="588.8" cy="1013.6" r="10" fill="#50a082" fill-opacity="0.4"/><circle cx="550" cy="1072.8" r="10" fill="#50a082" fill-opacity="0.4"/><circle cx="528.4" cy="1092.3" r="10" fill="#50a082" fill-opacity="0.4"/></g>
<line x1="172.4" y1="1133.5" x2="671.4" y2="761.1" stroke="#53987a" stroke-width="8.5"/>
<path d="M166.5 698.9 V1275.0 H790" fill="none" stroke="#000" stroke-width="2.8" stroke-linecap="butt" stroke-linejoin="miter"/>
<line x1="154.2" y1="800.5" x2="166.5" y2="800.5" stroke="#000" stroke-width="2.8"/>
<line x1="154.2" y1="980.2" x2="166.5" y2="980.2" stroke="#000" stroke-width="2.8"/>
<line x1="154.2" y1="1159.1" x2="166.5" y2="1159.1" stroke="#000" stroke-width="2.8"/>
<line x1="322.5" y1="1275.0" x2="322.5" y2="1287.3" stroke="#000" stroke-width="2.8"/>
<text x="322.5" y="1320.3" class="xl">0.2</text>
<line x1="443.4" y1="1275.0" x2="443.4" y2="1287.3" stroke="#000" stroke-width="2.8"/>
<text x="443.4" y="1320.3" class="xl">0.3</text>
<line x1="594.7" y1="1275.0" x2="594.7" y2="1287.3" stroke="#000" stroke-width="2.8"/>
<text x="594.7" y="1320.3" class="xl">0.5</text>
<text x="148.6" y="810.5" class="yl" textLength="69.0" lengthAdjust="spacingAndGlyphs">1000</text>
<text x="148.6" y="990.2" class="yl" textLength="34.5" lengthAdjust="spacingAndGlyphs">10</text>
<text x="148.6" y="1169.1" class="yl" textLength="43.1" lengthAdjust="spacingAndGlyphs">0.1</text>
<text x="23.0" y="723.4" class="pl">d</text>
<text x="185.8" y="730.6" class="lt">Subtropic</text>
<g><circle cx="1020" cy="763.6" r="8.5" fill="none" stroke="#ad972c" stroke-width="3.2" stroke-opacity="0.45"/><circle cx="1113.3" cy="760.7" r="10" fill="#ad972c" fill-opacity="0.45"/><circle cx="1039.4" cy="791.8" r="10" fill="#ad972c" fill-opacity="0.45"/><circle cx="1067.8" cy="792.3" r="8.5" fill="none" stroke="#ad972c" stroke-width="3.2" stroke-opacity="0.45"/><circle cx="1144.1" cy="802" r="8.5" fill="none" stroke="#ad972c" stroke-width="3.2" stroke-opacity="0.45"/><circle cx="1170.9" cy="793.1" r="10" fill="#ad972c" fill-opacity="0.45"/><circle cx="1053.2" cy="828.3" r="8.5" fill="none" stroke="#ad972c" stroke-width="3.2" stroke-opacity="0.45"/><circle cx="1161.9" cy="817.5" r="10" fill="#ad972c" fill-opacity="0.45"/><circle cx="1154.6" cy="834.5" r="8.5" fill="none" stroke="#ad972c" stroke-width="3.2" stroke-opacity="0.45"/><circle cx="1076.4" cy="848.3" r="8.5" fill="none" stroke="#ad972c" stroke-width="3.2" stroke-opacity="0.45"/><circle cx="1056.5" cy="861.8" r="10" fill="#ad972c" fill-opacity="0.45"/><circle cx="1132.7" cy="860.5" r="10" fill="#ad972c" fill-opacity="0.45"/><circle cx="1166" cy="843.4" r="10" fill="#ad972c" fill-opacity="0.45"/><circle cx="1168.4" cy="864.5" r="10" fill="#ad972c" fill-opacity="0.45"/><circle cx="1144.1" cy="872.6" r="10" fill="#ad972c" fill-opacity="0.45"/><circle cx="1147.3" cy="871.8" r="10" fill="#ad972c" fill-opacity="0.45"/><circle cx="1132.7" cy="884.8" r="10" fill="#ad972c" fill-opacity="0.45"/><circle cx="1144.1" cy="888.9" r="10" fill="#ad972c" fill-opacity="0.45"/><circle cx="1157.1" cy="887.2" r="8.5" fill="none" stroke="#ad972c" stroke-width="3.2" stroke-opacity="0.45"/><circle cx="1144.1" cy="899.4" r="10" fill="#ad972c" fill-opacity="0.45"/><circle cx="1163.6" cy="905.1" r="8.5" fill="none" stroke="#ad972c" stroke-width="3.2" stroke-opacity="0.45"/><circle cx="1101.1" cy="904.3" r="10" fill="#ad972c" fill-opacity="0.45"/><circle cx="1110" cy="905.1" r="10" fill="#ad972c" fill-opacity="0.45"/><circle cx="1115.7" cy="918.9" r="10" fill="#ad972c" fill-opacity="0.45"/><circle cx="1028.1" cy="916.4" r="8.5" fill="none" stroke="#ad972c" stroke-width="3.2" stroke-opacity="0.45"/><circle cx="1042.7" cy="921.3" r="10" fill="#ad972c" fill-opacity="0.45"/><circle cx="1064.6" cy="918.9" r="10" fill="#ad972c" fill-opacity="0.45"/><circle cx="1070.3" cy="916.4" r="10" fill="#ad972c" fill-opacity="0.45"/><circle cx="1081.6" cy="927.8" r="10" fill="#ad972c" fill-opacity="0.45"/><circle cx="1144.9" cy="922.1" r="10" fill="#ad972c" fill-opacity="0.45"/><circle cx="1153.8" cy="924.6" r="10" fill="#ad972c" fill-opacity="0.45"/><circle cx="1170.1" cy="922.9" r="10" fill="#ad972c" fill-opacity="0.45"/><circle cx="1161.9" cy="936.7" r="10" fill="#ad972c" fill-opacity="0.45"/><circle cx="1026.9" cy="953" r="10" fill="#ad972c" fill-opacity="0.45"/><circle cx="1066.2" cy="948.1" r="10" fill="#ad972c" fill-opacity="0.45"/><circle cx="1066.2" cy="961.9" r="10" fill="#ad972c" fill-opacity="0.45"/><circle cx="1066.2" cy="973.2" r="10" fill="#ad972c" fill-opacity="0.45"/><circle cx="1084" cy="960.3" r="10" fill="#ad972c" fill-opacity="0.45"/><circle cx="1080.8" cy="971.6" r="10" fill="#ad972c" fill-opacity="0.45"/><circle cx="1093" cy="974.9" r="10" fill="#ad972c" fill-opacity="0.45"/><circle cx="1102.7" cy="953" r="8.5" fill="none" stroke="#ad972c" stroke-width="3.2" stroke-opacity="0.45"/><circle cx="1098.7" cy="960.3" r="10" fill="#ad972c" fill-opacity="0.45"/><circle cx="1102.7" cy="968.4" r="10" fill="#ad972c" fill-opacity="0.45"/><circle cx="1111.6" cy="973.2" r="10" fill="#ad972c" fill-opacity="0.45"/><circle cx="1127.9" cy="962.7" r="10" fill="#ad972c" fill-opacity="0.45"/><circle cx="1140.8" cy="957" r="10" fill="#ad972c" fill-opacity="0.45"/><circle cx="1146.5" cy="961.9" r="10" fill="#ad972c" fill-opacity="0.45"/><circle cx="1137.6" cy="968.4" r="10" fill="#ad972c" fill-opacity="0.45"/><circle cx="1170.1" cy="965.1" r="10" fill="#ad972c" fill-opacity="0.45"/><circle cx="1032.1" cy="974.9" r="10" fill="#ad972c" fill-opacity="0.45"/><circle cx="1041.9" cy="985.4" r="8.5" fill="none" stroke="#ad972c" stroke-width="3.2" stroke-opacity="0.45"/><circle cx="1072.7" cy="986.2" r="10" fill="#ad972c" fill-opacity="0.45"/><circle cx="1101.9" cy="996" r="8.5" fill="none" stroke="#ad972c" stroke-width="3.2" stroke-opacity="0.45"/><circle cx="1158.7" cy="987" r="10" fill="#ad972c" fill-opacity="0.45"/><circle cx="880.9" cy="977.3" r="10" fill="#ad972c" fill-opacity="0.45"/><circle cx="1192" cy="731.9" r="10" fill="#ad972c" fill-opacity="0.45"/><circle cx="1217.1" cy="725" r="10" fill="#ad972c" fill-opacity="0.45"/><circle cx="1284.5" cy="725" r="10" fill="#ad972c" fill-opacity="0.45"/><circle cx="1294.4" cy="747.4" r="10" fill="#ad972c" fill-opacity="0.45"/><circle cx="1215.2" cy="769.9" r="10" fill="#ad972c" fill-opacity="0.45"/><circle cx="1276" cy="775.8" r="10" fill="#ad972c" fill-opacity="0.45"/><circle cx="1349" cy="778.5" r="10" fill="#ad972c" fill-opacity="0.45"/><circle cx="1176.2" cy="793.1" r="10" fill="#ad972c" fill-opacity="0.45"/><circle cx="1188.4" cy="795.6" r="10" fill="#ad972c" fill-opacity="0.45"/><circle cx="1203.8" cy="795.6" r="10" fill="#ad972c" fill-opacity="0.45"/><circle cx="1206.2" cy="810.2" r="8.5" fill="none" stroke="#ad972c" stroke-width="3.2" stroke-opacity="0.45"/><circle cx="1303.6" cy="797.2" r="10" fill="#ad972c" fill-opacity="0.45"/><circle cx="1273.6" cy="809.3" r="10" fill="#ad972c" fill-opacity="0.45"/><circle cx="1293.1" cy="812.6" r="10" fill="#ad972c" fill-opacity="0.45"/><circle cx="1419.3" cy="815" r="10" fill="#ad972c" fill-opacity="0.45"/><circle cx="1232.2" cy="823.9" r="8.5" fill="none" stroke="#ad972c" stroke-width="3.2" stroke-opacity="0.45"/><circle cx="1252.8" cy="828.8" r="10" fill="#ad972c" fill-opacity="0.45"/><circle cx="1242.8" cy="841.8" r="10" fill="#ad972c" fill-opacity="0.45"/><circle cx="1189.2" cy="834.5" r="8.5" fill="none" stroke="#ad972c" stroke-width="3.2" stroke-opacity="0.45"/><circle cx="1283.3" cy="833.7" r="10" fill="#ad972c" fill-opacity="0.45"/><circle cx="1186.8" cy="855.6" r="10" fill="#ad972c" fill-opacity="0.45"/><circle cx="1208.7" cy="853.2" r="10" fill="#ad972c" fill-opacity="0.45"/><circle cx="1215.2" cy="859.6" r="10" fill="#ad972c" fill-opacity="0.45"/><circle cx="1224.1" cy="860.5" r="10" fill="#ad972c" fill-opacity="0.45"/><circle cx="1179.5" cy="864.5" r="10" fill="#ad972c" fill-opacity="0.45"/><circle cx="1184.3" cy="879.1" r="10" fill="#ad972c" fill-opacity="0.45"/><circle cx="1186" cy="885.6" r="10" fill="#ad972c" fill-opacity="0.45"/><circle cx="1265.5" cy="858" r="10" fill="#ad972c" fill-opacity="0.45"/><circle cx="1273.6" cy="848.3" r="10" fill="#ad972c" fill-opacity="0.45"/><circle cx="1293.1" cy="853.2" r="10" fill="#ad972c" fill-opacity="0.45"/><circle cx="1288.2" cy="858" r="10" fill="#ad972c" fill-opacity="0.45"/><circle cx="1315.8" cy="859.6" r="10" fill="#ad972c" fill-opacity="0.45"/><circle cx="1354.7" cy="863.7" r="10" fill="#ad972c" fill-opacity="0.45"/><circle cx="1348.2" cy="871" r="10" fill="#ad972c" fill-opacity="0.45"/><circle cx="1354.7" cy="884" r="10" fill="#ad972c" fill-opacity="0.45"/><circle cx="1377.1" cy="891.3" r="10" fill="#ad972c" fill-opacity="0.45"/><circle cx="1448.8" cy="902.7" r="10" fill="#ad972c" fill-opacity="0.45"/><circle cx="1313.3" cy="883.2" r="10" fill="#ad972c" fill-opacity="0.45"/><circle cx="1213.5" cy="885.6" r="10" fill="#ad972c" fill-opacity="0.45"/><circle cx="1229.8" cy="888.9" r="10" fill="#ad972c" fill-opacity="0.45"/><circle cx="1203" cy="901.8" r="10" fill="#ad972c" fill-opacity="0.45"/><circle cx="1211.9" cy="898.6" r="10" fill="#ad972c" fill-opacity="0.45"/><circle cx="1245.2" cy="902.7" r="10" fill="#ad972c" fill-opacity="0.45"/><circle cx="1266.3" cy="897" r="10" fill="#ad972c" fill-opacity="0.45"/><circle cx="1277.6" cy="893.7" r="10" fill="#ad972c" fill-opacity="0.45"/><circle cx="1280.1" cy="911.6" r="10" fill="#ad972c" fill-opacity="0.45"/><circle cx="1266.3" cy="922.1" r="10" fill="#ad972c" fill-opacity="0.45"/><circle cx="1309.3" cy="920.5" r="10" fill="#ad972c" fill-opacity="0.45"/><circle cx="1323.9" cy="929.4" r="10" fill="#ad972c" fill-opacity="0.45"/><circle cx="1328.8" cy="905.9" r="10" fill="#ad972c" fill-opacity="0.45"/><circle cx="1323.1" cy="903.5" r="10" fill="#ad972c" fill-opacity="0.45"/><circle cx="1176.2" cy="917.3" r="10" fill="#ad972c" fill-opacity="0.45"/><circle cx="1177.8" cy="924.6" r="10" fill="#ad972c" fill-opacity="0.45"/><circle cx="1216.8" cy="919.7" r="10" fill="#ad972c" fill-opacity="0.45"/><circle cx="1216.8" cy="929.4" r="10" fill="#ad972c" fill-opacity="0.45"/><circle cx="1189.2" cy="935.9" r="10" fill="#ad972c" fill-opacity="0.45"/><circle cx="1248.4" cy="937.5" r="10" fill="#ad972c" fill-opacity="0.45"/><circle cx="1251.7" cy="947.3" r="10" fill="#ad972c" fill-opacity="0.45"/><circle cx="1275.2" cy="942.4" r="10" fill="#ad972c" fill-opacity="0.45"/><circle cx="1286.6" cy="957" r="10" fill="#ad972c" fill-opacity="0.45"/><circle cx="1267.1" cy="965.1" r="10" fill="#ad972c" fill-opacity="0.45"/><circle cx="1280.1" cy="962.7" r="10" fill="#ad972c" fill-opacity="0.45"/><circle cx="1233.8" cy="958.6" r="10" fill="#ad972c" fill-opacity="0.45"/><circle cx="1203.8" cy="957" r="10" fill="#ad972c" fill-opacity="0.45"/><circle cx="1213.5" cy="963.5" r="10" fill="#ad972c" fill-opacity="0.45"/><circle cx="1250.9" cy="969.2" r="8.5" fill="none" stroke="#ad972c" stroke-width="3.2" stroke-opacity="0.45"/><circle cx="1211.9" cy="978.9" r="8.5" fill="none" stroke="#ad972c" stroke-width="3.2" stroke-opacity="0.45"/><circle cx="1190.8" cy="978.1" r="10" fill="#ad972c" fill-opacity="0.45"/><circle cx="1310.9" cy="977.3" r="10" fill="#ad972c" fill-opacity="0.45"/><circle cx="1233" cy="991.1" r="10" fill="#ad972c" fill-opacity="0.45"/><circle cx="1286.6" cy="997.6" r="10" fill="#ad972c" fill-opacity="0.45"/><circle cx="1205.4" cy="996" r="8.5" fill="none" stroke="#ad972c" stroke-width="3.2" stroke-opacity="0.45"/><circle cx="1189.2" cy="997.6" r="10" fill="#ad972c" fill-opacity="0.45"/><circle cx="1078.4" cy="1006.8" r="10" fill="#ad972c" fill-opacity="0.45"/><circle cx="1137.6" cy="1010" r="10" fill="#ad972c" fill-opacity="0.45"/><circle cx="1142.5" cy="1013.3" r="10" fill="#ad972c" fill-opacity="0.45"/><circle cx="1131.1" cy="1020.6" r="10" fill="#ad972c" fill-opacity="0.45"/><circle cx="1120.6" cy="1025.4" r="10" fill="#ad972c" fill-opacity="0.45"/><circle cx="1104.3" cy="1033.5" r="10" fill="#ad972c" fill-opacity="0.45"/><circle cx="942.5" cy="1062.8" r="10" fill="#ad972c" fill-opacity="0.45"/><circle cx="1077.2" cy="1072.8" r="10" fill="#ad972c" fill-opacity="0.45"/><circle cx="1112.4" cy="1066" r="10" fill="#ad972c" fill-opacity="0.45"/><circle cx="1110" cy="1070.1" r="10" fill="#ad972c" fill-opacity="0.45"/><circle cx="1127.9" cy="1079.8" r="10" fill="#ad972c" fill-opacity="0.45"/><circle cx="1157.1" cy="1070.9" r="10" fill="#ad972c" fill-opacity="0.45"/><circle cx="1155.4" cy="1077.4" r="10" fill="#ad972c" fill-opacity="0.45"/><circle cx="1160.3" cy="1073.3" r="8.5" fill="none" stroke="#ad972c" stroke-width="3.2" stroke-opacity="0.45"/><circle cx="1110.8" cy="1089.5" r="10" fill="#ad972c" fill-opacity="0.45"/><circle cx="1116.8" cy="1104.9" r="10" fill="#ad972c" fill-opacity="0.45"/><circle cx="1134.7" cy="1116.3" r="8.5" fill="none" stroke="#ad972c" stroke-width="3.2" stroke-opacity="0.45"/><circle cx="962" cy="1128.5" r="10" fill="#ad972c" fill-opacity="0.45"/><circle cx="1069.4" cy="1132" r="10" fill="#ad972c" fill-opacity="0.45"/><circle cx="1159.5" cy="1159.3" r="10" fill="#ad972c" fill-opacity="0.45"/><circle cx="1097" cy="1173.1" r="8.5" fill="none" stroke="#ad972c" stroke-width="3.2" stroke-opacity="0.45"/><circle cx="1085.7" cy="1206" r="10" fill="#ad972c" fill-opacity="0.45"/><circle cx="1161.9" cy="1206" r="10" fill="#ad972c" fill-opacity="0.45"/><circle cx="1045.6" cy="1248.9" r="10" fill="#ad972c" fill-opacity="0.45"/><circle cx="1066.5" cy="1248.9" r="10" fill="#ad972c" fill-opacity="0.45"/><circle cx="1237.1" cy="993.8" r="10" fill="#ad972c" fill-opacity="0.45"/><circle cx="1190" cy="1017.3" r="10" fill="#ad972c" fill-opacity="0.45"/><circle cx="1228.2" cy="1010.8" r="10" fill="#ad972c" fill-opacity="0.45"/><circle cx="1255.7" cy="1013.3" r="10" fill="#ad972c" fill-opacity="0.45"/><circle cx="1264.7" cy="1018.9" r="10" fill="#ad972c" fill-opacity="0.45"/><circle cx="1285.8" cy="1009.2" r="10" fill="#ad972c" fill-opacity="0.45"/><circle cx="1261.4" cy="1043.3" r="10" fill="#ad972c" fill-opacity="0.45"/><circle cx="1270.3" cy="1069.7" r="10" fill="#ad972c" fill-opacity="0.45"/><circle cx="1218.4" cy="1092" r="10" fill="#ad972c" fill-opacity="0.45"/><circle cx="1210.3" cy="1096" r="10" fill="#ad972c" fill-opacity="0.45"/><circle cx="1208.7" cy="1104.9" r="10" fill="#ad972c" fill-opacity="0.45"/></g>
<line x1="970.1" y1="1164" x2="1362.3" y2="756.9" stroke="#af9632" stroke-width="8.5"/>
<path d="M852.5 698.9 V1275.0 H1477" fill="none" stroke="#000" stroke-width="2.8" stroke-linecap="butt" stroke-linejoin="miter"/>
<line x1="840.2" y1="800.8" x2="852.5" y2="800.8" stroke="#000" stroke-width="2.8"/>
<line x1="840.2" y1="979.4" x2="852.5" y2="979.4" stroke="#000" stroke-width="2.8"/>
<line x1="840.2" y1="1158.8" x2="852.5" y2="1158.8" stroke="#000" stroke-width="2.8"/>
<line x1="1016.7" y1="1275.0" x2="1016.7" y2="1287.3" stroke="#000" stroke-width="2.8"/>
<text x="1016.7" y="1320.3" class="xl">30</text>
<line x1="1229" y1="1275.0" x2="1229" y2="1287.3" stroke="#000" stroke-width="2.8"/>
<text x="1229" y="1320.3" class="xl">100</text>
<line x1="1424.5" y1="1275.0" x2="1424.5" y2="1287.3" stroke="#000" stroke-width="2.8"/>
<text x="1424.5" y="1320.3" class="xl">300</text>
<text x="780.6" y="717.8" class="pl">e</text>
<text x="878.8" y="724.6" class="lt">Subtropic</text>
<g><circle cx="1714.1" cy="731.9" r="10" fill="#2d6eb9" fill-opacity="0.42"/><circle cx="1784.3" cy="724.6" r="10" fill="#2d6eb9" fill-opacity="0.42"/><circle cx="1749.8" cy="760.3" r="10" fill="#2d6eb9" fill-opacity="0.42"/><circle cx="1773" cy="763.4" r="8.5" fill="none" stroke="#2d6eb9" stroke-width="3.2" stroke-opacity="0.42"/><circle cx="1844.7" cy="747.2" r="10" fill="#2d6eb9" fill-opacity="0.42"/><circle cx="1825.2" cy="769.6" r="10" fill="#2d6eb9" fill-opacity="0.42"/><circle cx="1849.6" cy="775.3" r="10" fill="#2d6eb9" fill-opacity="0.42"/><circle cx="1666.2" cy="792.6" r="8.5" fill="none" stroke="#2d6eb9" stroke-width="3.2" stroke-opacity="0.42"/><circle cx="1718.9" cy="791.8" r="10" fill="#2d6eb9" fill-opacity="0.42"/><circle cx="1766.8" cy="802" r="8.5" fill="none" stroke="#2d6eb9" stroke-width="3.2" stroke-opacity="0.42"/><circle cx="1800.4" cy="795.2" r="10" fill="#2d6eb9" fill-opacity="0.42"/><circle cx="1810.6" cy="812.6" r="10" fill="#2d6eb9" fill-opacity="0.42"/><circle cx="1843.1" cy="793.1" r="10" fill="#2d6eb9" fill-opacity="0.42"/><circle cx="1773.3" cy="817.5" r="10" fill="#2d6eb9" fill-opacity="0.42"/><circle cx="1793.6" cy="824.8" r="8.5" fill="none" stroke="#2d6eb9" stroke-width="3.2" stroke-opacity="0.42"/><circle cx="1789.5" cy="836.1" r="8.5" fill="none" stroke="#2d6eb9" stroke-width="3.2" stroke-opacity="0.42"/><circle cx="1737.6" cy="828.3" r="8.5" fill="none" stroke="#2d6eb9" stroke-width="3.2" stroke-opacity="0.42"/><circle cx="1836.6" cy="814.2" r="10" fill="#2d6eb9" fill-opacity="0.42"/><circle cx="1846.3" cy="819.1" r="10" fill="#2d6eb9" fill-opacity="0.42"/><circle cx="1856.1" cy="809.3" r="8.5" fill="none" stroke="#2d6eb9" stroke-width="3.2" stroke-opacity="0.42"/><circle cx="1841.4" cy="832.9" r="8.5" fill="none" stroke="#2d6eb9" stroke-width="3.2" stroke-opacity="0.42"/><circle cx="1838.2" cy="833.7" r="8.5" fill="none" stroke="#2d6eb9" stroke-width="3.2" stroke-opacity="0.42"/><circle cx="1763.6" cy="834.5" r="10" fill="#2d6eb9" fill-opacity="0.42"/><circle cx="1779.8" cy="836.9" r="10" fill="#2d6eb9" fill-opacity="0.42"/><circle cx="1739.2" cy="843.4" r="10" fill="#2d6eb9" fill-opacity="0.42"/><circle cx="1740" cy="853.2" r="10" fill="#2d6eb9" fill-opacity="0.42"/><circle cx="1762.7" cy="848.3" r="8.5" fill="none" stroke="#2d6eb9" stroke-width="3.2" stroke-opacity="0.42"/><circle cx="1774.9" cy="858.8" r="10" fill="#2d6eb9" fill-opacity="0.42"/><circle cx="1791.1" cy="858.8" r="10" fill="#2d6eb9" fill-opacity="0.42"/><circle cx="1796" cy="862.9" r="10" fill="#2d6eb9" fill-opacity="0.42"/><circle cx="1807.4" cy="854.8" r="10" fill="#2d6eb9" fill-opacity="0.42"/><circle cx="1823.6" cy="854" r="10" fill="#2d6eb9" fill-opacity="0.42"/><circle cx="1817.1" cy="872.6" r="10" fill="#2d6eb9" fill-opacity="0.42"/><circle cx="1823.6" cy="872.6" r="10" fill="#2d6eb9" fill-opacity="0.42"/><circle cx="1841.4" cy="858.8" r="10" fill="#2d6eb9" fill-opacity="0.42"/><circle cx="1847.9" cy="843.4" r="10" fill="#2d6eb9" fill-opacity="0.42"/><circle cx="1693.5" cy="861.8" r="10" fill="#2d6eb9" fill-opacity="0.42"/><circle cx="1722.2" cy="862.9" r="10" fill="#2d6eb9" fill-opacity="0.42"/><circle cx="1721.4" cy="866.1" r="10" fill="#2d6eb9" fill-opacity="0.42"/><circle cx="1566.9" cy="889.3" r="10" fill="#2d6eb9" fill-opacity="0.42"/><circle cx="1762.7" cy="879.1" r="10" fill="#2d6eb9" fill-opacity="0.42"/><circle cx="1751.4" cy="887.2" r="8.5" fill="none" stroke="#2d6eb9" stroke-width="3.2" stroke-opacity="0.42"/><circle cx="1779.8" cy="888" r="10" fill="#2d6eb9" fill-opacity="0.42"/><circle cx="1796.8" cy="884.8" r="10" fill="#2d6eb9" fill-opacity="0.42"/><circle cx="1793.6" cy="900.2" r="10" fill="#2d6eb9" fill-opacity="0.42"/><circle cx="1808.2" cy="904.3" r="10" fill="#2d6eb9" fill-opacity="0.42"/><circle cx="1830.1" cy="900.2" r="10" fill="#2d6eb9" fill-opacity="0.42"/><circle cx="1852.8" cy="896.2" r="8.5" fill="none" stroke="#2d6eb9" stroke-width="3.2" stroke-opacity="0.42"/><circle cx="1856.1" cy="884" r="10" fill="#2d6eb9" fill-opacity="0.42"/><circle cx="1684.9" cy="904.3" r="10" fill="#2d6eb9" fill-opacity="0.42"/><circle cx="1695.4" cy="904.3" r="8.5" fill="none" stroke="#2d6eb9" stroke-width="3.2" stroke-opacity="0.42"/><circle cx="1693.8" cy="918.9" r="10" fill="#2d6eb9" fill-opacity="0.42"/><circle cx="1706.8" cy="921.3" r="10" fill="#2d6eb9" fill-opacity="0.42"/><circle cx="1717.3" cy="918.1" r="10" fill="#2d6eb9" fill-opacity="0.42"/><circle cx="1721.4" cy="919.7" r="10" fill="#2d6eb9" fill-opacity="0.42"/><circle cx="1731.9" cy="926.2" r="10" fill="#2d6eb9" fill-opacity="0.42"/><circle cx="1736" cy="902.7" r="10" fill="#2d6eb9" fill-opacity="0.42"/><circle cx="1742.5" cy="916.4" r="8.5" fill="none" stroke="#2d6eb9" stroke-width="3.2" stroke-opacity="0.42"/><circle cx="1749" cy="905.1" r="10" fill="#2d6eb9" fill-opacity="0.42"/><circle cx="1755.4" cy="921.3" r="10" fill="#2d6eb9" fill-opacity="0.42"/><circle cx="1757.1" cy="932.7" r="10" fill="#2d6eb9" fill-opacity="0.42"/><circle cx="1771.7" cy="924.6" r="10" fill="#2d6eb9" fill-opacity="0.42"/><circle cx="1788.7" cy="916.4" r="10" fill="#2d6eb9" fill-opacity="0.42"/><circle cx="1790.3" cy="935.9" r="10" fill="#2d6eb9" fill-opacity="0.42"/><circle cx="1812.2" cy="925.4" r="10" fill="#2d6eb9" fill-opacity="0.42"/><circle cx="1830.1" cy="921.3" r="10" fill="#2d6eb9" fill-opacity="0.42"/><circle cx="1847.1" cy="922.9" r="10" fill="#2d6eb9" fill-opacity="0.42"/><circle cx="1851.2" cy="935.9" r="10" fill="#2d6eb9" fill-opacity="0.42"/><circle cx="1830.1" cy="942.4" r="10" fill="#2d6eb9" fill-opacity="0.42"/><circle cx="1856.1" cy="958.6" r="10" fill="#2d6eb9" fill-opacity="0.42"/><circle cx="1706.8" cy="952.1" r="10" fill="#2d6eb9" fill-opacity="0.42"/><circle cx="1718.1" cy="968.4" r="10" fill="#2d6eb9" fill-opacity="0.42"/><circle cx="1707.6" cy="974.9" r="10" fill="#2d6eb9" fill-opacity="0.42"/><circle cx="1670.3" cy="960.3" r="10" fill="#2d6eb9" fill-opacity="0.42"/><circle cx="1685.7" cy="962.7" r="10" fill="#2d6eb9" fill-opacity="0.42"/><circle cx="1684.9" cy="971.6" r="10" fill="#2d6eb9" fill-opacity="0.42"/><circle cx="1683.2" cy="986.2" r="10" fill="#2d6eb9" fill-opacity="0.42"/><circle cx="1693" cy="996" r="10" fill="#2d6eb9" fill-opacity="0.42"/><circle cx="1740.8" cy="961.9" r="10" fill="#2d6eb9" fill-opacity="0.42"/><circle cx="1762.7" cy="952.1" r="8.5" fill="none" stroke="#2d6eb9" stroke-width="3.2" stroke-opacity="0.42"/><circle cx="1778.2" cy="947.3" r="10" fill="#2d6eb9" fill-opacity="0.42"/><circle cx="1774.9" cy="957" r="10" fill="#2d6eb9" fill-opacity="0.42"/><circle cx="1757.1" cy="974.9" r="10" fill="#2d6eb9" fill-opacity="0.42"/><circle cx="1761.9" cy="977.3" r="10" fill="#2d6eb9" fill-opacity="0.42"/><circle cx="1765.2" cy="978.1" r="8.5" fill="none" stroke="#2d6eb9" stroke-width="3.2" stroke-opacity="0.42"/><circle cx="1765.2" cy="986.2" r="8.5" fill="none" stroke="#2d6eb9" stroke-width="3.2" stroke-opacity="0.42"/><circle cx="1781.4" cy="974.9" r="10" fill="#2d6eb9" fill-opacity="0.42"/><circle cx="1797.6" cy="953.8" r="10" fill="#2d6eb9" fill-opacity="0.42"/><circle cx="1807.4" cy="961.9" r="10" fill="#2d6eb9" fill-opacity="0.42"/><circle cx="1825.2" cy="962.7" r="10" fill="#2d6eb9" fill-opacity="0.42"/><circle cx="1833.3" cy="958.6" r="10" fill="#2d6eb9" fill-opacity="0.42"/><circle cx="1822" cy="978.9" r="10" fill="#2d6eb9" fill-opacity="0.42"/><circle cx="1838.2" cy="986.2" r="10" fill="#2d6eb9" fill-opacity="0.42"/><circle cx="1758.7" cy="996" r="8.5" fill="none" stroke="#2d6eb9" stroke-width="3.2" stroke-opacity="0.42"/><circle cx="1789.5" cy="996" r="8.5" fill="none" stroke="#2d6eb9" stroke-width="3.2" stroke-opacity="0.42"/><circle cx="1736" cy="997.6" r="10" fill="#2d6eb9" fill-opacity="0.42"/><circle cx="1825.2" cy="997.6" r="10" fill="#2d6eb9" fill-opacity="0.42"/><circle cx="1866.5" cy="725" r="10" fill="#2d6eb9" fill-opacity="0.42"/><circle cx="1880.9" cy="776.9" r="10" fill="#2d6eb9" fill-opacity="0.42"/><circle cx="1891.1" cy="795.9" r="10" fill="#2d6eb9" fill-opacity="0.42"/><circle cx="1860.3" cy="809.3" r="8.5" fill="none" stroke="#2d6eb9" stroke-width="3.2" stroke-opacity="0.42"/><circle cx="1861.9" cy="809.8" r="10" fill="#2d6eb9" fill-opacity="0.42"/><circle cx="1897.6" cy="854.8" r="10" fill="#2d6eb9" fill-opacity="0.42"/><circle cx="1908.2" cy="848.6" r="8.5" fill="none" stroke="#2d6eb9" stroke-width="3.2" stroke-opacity="0.42"/><circle cx="1881.9" cy="863.7" r="10" fill="#2d6eb9" fill-opacity="0.42"/><circle cx="1895.2" cy="871" r="10" fill="#2d6eb9" fill-opacity="0.42"/><circle cx="1891.9" cy="884" r="10" fill="#2d6eb9" fill-opacity="0.42"/><circle cx="1862.7" cy="883.2" r="10" fill="#2d6eb9" fill-opacity="0.42"/><circle cx="1875.7" cy="887.2" r="10" fill="#2d6eb9" fill-opacity="0.42"/><circle cx="1904.1" cy="891.3" r="10" fill="#2d6eb9" fill-opacity="0.42"/><circle cx="1933.3" cy="897.8" r="10" fill="#2d6eb9" fill-opacity="0.42"/><circle cx="1866" cy="897" r="10" fill="#2d6eb9" fill-opacity="0.42"/><circle cx="1883" cy="903.5" r="10" fill="#2d6eb9" fill-opacity="0.42"/><circle cx="1868.4" cy="918.9" r="10" fill="#2d6eb9" fill-opacity="0.42"/><circle cx="1888.7" cy="919.7" r="8.5" fill="none" stroke="#2d6eb9" stroke-width="3.2" stroke-opacity="0.42"/><circle cx="1887.1" cy="918.9" r="10" fill="#2d6eb9" fill-opacity="0.42"/><circle cx="1897.6" cy="931" r="10" fill="#2d6eb9" fill-opacity="0.42"/><circle cx="1917.9" cy="918.1" r="10" fill="#2d6eb9" fill-opacity="0.42"/><circle cx="1912.2" cy="946.5" r="10" fill="#2d6eb9" fill-opacity="0.42"/><circle cx="1878.5" cy="953" r="10" fill="#2d6eb9" fill-opacity="0.42"/><circle cx="1862.7" cy="959.4" r="10" fill="#2d6eb9" fill-opacity="0.42"/><circle cx="1868.4" cy="977.3" r="10" fill="#2d6eb9" fill-opacity="0.42"/><circle cx="1881.4" cy="991.1" r="10" fill="#2d6eb9" fill-opacity="0.42"/><circle cx="1884.6" cy="989.5" r="10" fill="#2d6eb9" fill-opacity="0.42"/><circle cx="2134.5" cy="962.7" r="10" fill="#2d6eb9" fill-opacity="0.42"/><circle cx="1753.8" cy="1010.8" r="10" fill="#2d6eb9" fill-opacity="0.42"/><circle cx="1756.3" cy="1013.3" r="10" fill="#2d6eb9" fill-opacity="0.42"/><circle cx="1770.9" cy="1010" r="10" fill="#2d6eb9" fill-opacity="0.42"/><circle cx="1762.7" cy="1026.2" r="10" fill="#2d6eb9" fill-opacity="0.42"/><circle cx="1743.3" cy="1031.9" r="10" fill="#2d6eb9" fill-opacity="0.42"/><circle cx="1793.6" cy="1014.1" r="10" fill="#2d6eb9" fill-opacity="0.42"/><circle cx="1796" cy="1016.5" r="10" fill="#2d6eb9" fill-opacity="0.42"/><circle cx="1788.7" cy="1018.1" r="10" fill="#2d6eb9" fill-opacity="0.42"/><circle cx="1809" cy="1020.6" r="10" fill="#2d6eb9" fill-opacity="0.42"/><circle cx="1823.6" cy="1012.5" r="10" fill="#2d6eb9" fill-opacity="0.42"/><circle cx="1852" cy="1043.3" r="10" fill="#2d6eb9" fill-opacity="0.42"/><circle cx="1681.6" cy="1062.4" r="10" fill="#2d6eb9" fill-opacity="0.42"/><circle cx="1686.2" cy="1089.5" r="10" fill="#2d6eb9" fill-opacity="0.42"/><circle cx="1723" cy="1079.8" r="10" fill="#2d6eb9" fill-opacity="0.42"/><circle cx="1732.7" cy="1105.3" r="10" fill="#2d6eb9" fill-opacity="0.42"/><circle cx="1764.4" cy="1072.5" r="10" fill="#2d6eb9" fill-opacity="0.42"/><circle cx="1774.1" cy="1069.2" r="10" fill="#2d6eb9" fill-opacity="0.42"/><circle cx="1804.9" cy="1065.2" r="10" fill="#2d6eb9" fill-opacity="0.42"/><circle cx="1816.3" cy="1068.4" r="10" fill="#2d6eb9" fill-opacity="0.42"/><circle cx="1822" cy="1076.6" r="10" fill="#2d6eb9" fill-opacity="0.42"/><circle cx="1825.2" cy="1074.1" r="8.5" fill="none" stroke="#2d6eb9" stroke-width="3.2" stroke-opacity="0.42"/><circle cx="1809.8" cy="1092" r="10" fill="#2d6eb9" fill-opacity="0.42"/><circle cx="1813.1" cy="1096" r="10" fill="#2d6eb9" fill-opacity="0.42"/><circle cx="1812.2" cy="1116" r="8.5" fill="none" stroke="#2d6eb9" stroke-width="3.2" stroke-opacity="0.42"/><circle cx="1822.8" cy="1128.5" r="10" fill="#2d6eb9" fill-opacity="0.42"/><circle cx="1833" cy="1159.3" r="10" fill="#2d6eb9" fill-opacity="0.42"/><circle cx="1771.2" cy="1173.1" r="8.5" fill="none" stroke="#2d6eb9" stroke-width="3.2" stroke-opacity="0.42"/><circle cx="1776.5" cy="1206" r="10" fill="#2d6eb9" fill-opacity="0.42"/><circle cx="1826" cy="1206" r="10" fill="#2d6eb9" fill-opacity="0.42"/><circle cx="1695.1" cy="1248.9" r="10" fill="#2d6eb9" fill-opacity="0.42"/><circle cx="1754.3" cy="1248.9" r="10" fill="#2d6eb9" fill-opacity="0.42"/><circle cx="1896" cy="1018.5" r="10" fill="#2d6eb9" fill-opacity="0.42"/></g>
<path d="M1538.5 698.9 V1275.0 H2162" fill="none" stroke="#000" stroke-width="2.8" stroke-linecap="butt" stroke-linejoin="miter"/>
<line x1="1526.2" y1="799.8" x2="1538.5" y2="799.8" stroke="#000" stroke-width="2.8"/>
<line x1="1526.2" y1="979.4" x2="1538.5" y2="979.4" stroke="#000" stroke-width="2.8"/>
<line x1="1526.2" y1="1159.3" x2="1538.5" y2="1159.3" stroke="#000" stroke-width="2.8"/>
<line x1="1656.8" y1="1275.0" x2="1656.8" y2="1287.3" stroke="#000" stroke-width="2.8"/>
<text x="1656.8" y="1320.3" class="xl">3</text>
<line x1="1906.4" y1="1275.0" x2="1906.4" y2="1287.3" stroke="#000" stroke-width="2.8"/>
<text x="1906.4" y="1320.3" class="xl">10</text>
<line x1="2133.1" y1="1275.0" x2="2133.1" y2="1287.3" stroke="#000" stroke-width="2.8"/>
<text x="2133.1" y="1320.3" class="xl">30</text>
<text x="1480.6" y="740.5" class="pl">f</text>
<text x="1558.8" y="717.7" class="lt">Subtropic</text>
<g><circle cx="460" cy="1405" r="8.5" fill="none" stroke="#50a082" stroke-width="3.2" stroke-opacity="0.4"/><circle cx="421.6" cy="1418.3" r="10" fill="#50a082" fill-opacity="0.4"/><circle cx="434.9" cy="1430.9" r="8.5" fill="none" stroke="#50a082" stroke-width="3.2" stroke-opacity="0.4"/><circle cx="288.8" cy="1471.5" r="8.5" fill="none" stroke="#50a082" stroke-width="3.2" stroke-opacity="0.4"/><circle cx="393.2" cy="1491.8" r="10" fill="#50a082" fill-opacity="0.4"/><circle cx="393.2" cy="1503.9" r="8.5" fill="none" stroke="#50a082" stroke-width="3.2" stroke-opacity="0.4"/><circle cx="393.2" cy="1522.6" r="10" fill="#50a082" fill-opacity="0.4"/><circle cx="345.3" cy="1529.1" r="8.5" fill="none" stroke="#50a082" stroke-width="3.2" stroke-opacity="0.4"/><circle cx="362" cy="1525" r="8.5" fill="none" stroke="#50a082" stroke-width="3.2" stroke-opacity="0.4"/><circle cx="471.9" cy="1519.9" r="8.5" fill="none" stroke="#50a082" stroke-width="3.2" stroke-opacity="0.4"/><circle cx="393.2" cy="1563.2" r="10" fill="#50a082" fill-opacity="0.4"/><circle cx="194.9" cy="1611.9" r="10" fill="#50a082" fill-opacity="0.4"/><circle cx="345.3" cy="1612.7" r="10" fill="#50a082" fill-opacity="0.4"/><circle cx="362" cy="1602.9" r="8.5" fill="none" stroke="#50a082" stroke-width="3.2" stroke-opacity="0.4"/><circle cx="377.8" cy="1607.8" r="10" fill="#50a082" fill-opacity="0.4"/><circle cx="393.2" cy="1598.9" r="10" fill="#50a082" fill-opacity="0.4"/><circle cx="407.8" cy="1590" r="10" fill="#50a082" fill-opacity="0.4"/><circle cx="407.8" cy="1594.8" r="10" fill="#50a082" fill-opacity="0.4"/><circle cx="407.8" cy="1609.4" r="10" fill="#50a082" fill-opacity="0.4"/><circle cx="434.6" cy="1588.3" r="8.5" fill="none" stroke="#50a082" stroke-width="3.2" stroke-opacity="0.4"/><circle cx="447.5" cy="1585.1" r="8.5" fill="none" stroke="#50a082" stroke-width="3.2" stroke-opacity="0.4"/><circle cx="471.9" cy="1605.4" r="8.5" fill="none" stroke="#50a082" stroke-width="3.2" stroke-opacity="0.4"/><circle cx="459.7" cy="1616.7" r="10" fill="#50a082" fill-opacity="0.4"/><circle cx="362" cy="1629.7" r="10" fill="#50a082" fill-opacity="0.4"/><circle cx="377.8" cy="1627.3" r="10" fill="#50a082" fill-opacity="0.4"/><circle cx="377.8" cy="1637" r="10" fill="#50a082" fill-opacity="0.4"/><circle cx="393.2" cy="1633.8" r="10" fill="#50a082" fill-opacity="0.4"/><circle cx="393.2" cy="1637" r="10" fill="#50a082" fill-opacity="0.4"/><circle cx="421.6" cy="1630.5" r="10" fill="#50a082" fill-opacity="0.4"/><circle cx="459.7" cy="1640.3" r="10" fill="#50a082" fill-opacity="0.4"/><circle cx="327.5" cy="1654.1" r="10" fill="#50a082" fill-opacity="0.4"/><circle cx="328.3" cy="1654.9" r="10" fill="#50a082" fill-opacity="0.4"/><circle cx="345.3" cy="1653.2" r="10" fill="#50a082" fill-opacity="0.4"/><circle cx="346.1" cy="1654.1" r="10" fill="#50a082" fill-opacity="0.4"/><circle cx="362" cy="1654.9" r="8.5" fill="none" stroke="#50a082" stroke-width="3.2" stroke-opacity="0.4"/><circle cx="362" cy="1658.1" r="10" fill="#50a082" fill-opacity="0.4"/><circle cx="377.8" cy="1666.2" r="10" fill="#50a082" fill-opacity="0.4"/><circle cx="407.8" cy="1666.2" r="10" fill="#50a082" fill-opacity="0.4"/><circle cx="421.6" cy="1658.1" r="8.5" fill="none" stroke="#50a082" stroke-width="3.2" stroke-opacity="0.4"/><circle cx="420.8" cy="1657.3" r="8.5" fill="none" stroke="#50a082" stroke-width="3.2" stroke-opacity="0.4"/><circle cx="421.6" cy="1669.5" r="10" fill="#50a082" fill-opacity="0.4"/><circle cx="434.6" cy="1653.2" r="10" fill="#50a082" fill-opacity="0.4"/><circle cx="447.5" cy="1661.4" r="10" fill="#50a082" fill-opacity="0.4"/><circle cx="308.8" cy="1673.5" r="10" fill="#50a082" fill-opacity="0.4"/><circle cx="377.8" cy="1677.6" r="8.5" fill="none" stroke="#50a082" stroke-width="3.2" stroke-opacity="0.4"/><circle cx="447.5" cy="1677.6" r="8.5" fill="none" stroke="#50a082" stroke-width="3.2" stroke-opacity="0.4"/><circle cx="471.9" cy="1677.6" r="10" fill="#50a082" fill-opacity="0.4"/><circle cx="471.1" cy="1678.4" r="10" fill="#50a082" fill-opacity="0.4"/><circle cx="494.7" cy="1426.5" r="8.5" fill="none" stroke="#50a082" stroke-width="3.2" stroke-opacity="0.4"/><circle cx="535.7" cy="1430.1" r="10" fill="#50a082" fill-opacity="0.4"/><circle cx="563.6" cy="1438.7" r="8.5" fill="none" stroke="#50a082" stroke-width="3.2" stroke-opacity="0.4"/><circle cx="505.7" cy="1514.5" r="10" fill="#50a082" fill-opacity="0.4"/><circle cx="545.1" cy="1513.7" r="10" fill="#50a082" fill-opacity="0.4"/><circle cx="612.8" cy="1550.7" r="8.5" fill="none" stroke="#50a082" stroke-width="3.2" stroke-opacity="0.4"/><circle cx="716.3" cy="1552.6" r="10" fill="#50a082" fill-opacity="0.4"/><circle cx="494.7" cy="1556.7" r="8.5" fill="none" stroke="#50a082" stroke-width="3.2" stroke-opacity="0.4"/><circle cx="535.7" cy="1557.5" r="8.5" fill="none" stroke="#50a082" stroke-width="3.2" stroke-opacity="0.4"/><circle cx="494.7" cy="1568.9" r="10" fill="#50a082" fill-opacity="0.4"/><circle cx="483.8" cy="1580.2" r="10" fill="#50a082" fill-opacity="0.4"/><circle cx="483.8" cy="1593.2" r="8.5" fill="none" stroke="#50a082" stroke-width="3.2" stroke-opacity="0.4"/><circle cx="483.8" cy="1608.6" r="10" fill="#50a082" fill-opacity="0.4"/><circle cx="483.8" cy="1620.8" r="10" fill="#50a082" fill-opacity="0.4"/><circle cx="483.8" cy="1636.2" r="10" fill="#50a082" fill-opacity="0.4"/><circle cx="483.8" cy="1640.3" r="10" fill="#50a082" fill-opacity="0.4"/><circle cx="483.8" cy="1653.2" r="10" fill="#50a082" fill-opacity="0.4"/><circle cx="505.7" cy="1605.4" r="8.5" fill="none" stroke="#50a082" stroke-width="3.2" stroke-opacity="0.4"/><circle cx="554.4" cy="1598.1" r="10" fill="#50a082" fill-opacity="0.4"/><circle cx="588.9" cy="1587.5" r="10" fill="#50a082" fill-opacity="0.4"/><circle cx="612.8" cy="1603.7" r="10" fill="#50a082" fill-opacity="0.4"/><circle cx="681" cy="1609.4" r="10" fill="#50a082" fill-opacity="0.4"/><circle cx="526" cy="1640.3" r="10" fill="#50a082" fill-opacity="0.4"/><circle cx="515.8" cy="1654.9" r="8.5" fill="none" stroke="#50a082" stroke-width="3.2" stroke-opacity="0.4"/><circle cx="563.6" cy="1647.6" r="10" fill="#50a082" fill-opacity="0.4"/><circle cx="572.2" cy="1664.6" r="10" fill="#50a082" fill-opacity="0.4"/><circle cx="588.9" cy="1661.4" r="10" fill="#50a082" fill-opacity="0.4"/><circle cx="620.1" cy="1653.2" r="10" fill="#50a082" fill-opacity="0.4"/><circle cx="620.1" cy="1658.1" r="10" fill="#50a082" fill-opacity="0.4"/><circle cx="662" cy="1637" r="10" fill="#50a082" fill-opacity="0.4"/><circle cx="655.5" cy="1647.6" r="10" fill="#50a082" fill-opacity="0.4"/><circle cx="649" cy="1659.7" r="10" fill="#50a082" fill-opacity="0.4"/><circle cx="308.8" cy="1680.3" r="10" fill="#50a082" fill-opacity="0.4"/><circle cx="362" cy="1688.9" r="10" fill="#50a082" fill-opacity="0.4"/><circle cx="393.2" cy="1698.1" r="10" fill="#50a082" fill-opacity="0.4"/><circle cx="407.8" cy="1681.9" r="10" fill="#50a082" fill-opacity="0.4"/><circle cx="421.6" cy="1681.1" r="8.5" fill="none" stroke="#50a082" stroke-width="3.2" stroke-opacity="0.4"/><circle cx="435.4" cy="1696.5" r="10" fill="#50a082" fill-opacity="0.4"/><circle cx="447.5" cy="1693.3" r="8.5" fill="none" stroke="#50a082" stroke-width="3.2" stroke-opacity="0.4"/><circle cx="448.4" cy="1702.2" r="10" fill="#50a082" fill-opacity="0.4"/><circle cx="460.5" cy="1681.1" r="10" fill="#50a082" fill-opacity="0.4"/><circle cx="482.4" cy="1684.3" r="10" fill="#50a082" fill-opacity="0.4"/><circle cx="421.6" cy="1712.7" r="10" fill="#50a082" fill-opacity="0.4"/><circle cx="447.5" cy="1717.6" r="10" fill="#50a082" fill-opacity="0.4"/><circle cx="460.5" cy="1724.9" r="10" fill="#50a082" fill-opacity="0.4"/><circle cx="472.7" cy="1705.4" r="10" fill="#50a082" fill-opacity="0.4"/><circle cx="472.7" cy="1716.8" r="10" fill="#50a082" fill-opacity="0.4"/><circle cx="482.4" cy="1710.3" r="10" fill="#50a082" fill-opacity="0.4"/><circle cx="345.3" cy="1713.5" r="10" fill="#50a082" fill-opacity="0.4"/><circle cx="393.2" cy="1731.7" r="10" fill="#50a082" fill-opacity="0.4"/><circle cx="435.4" cy="1731.4" r="10" fill="#50a082" fill-opacity="0.4"/><circle cx="435.4" cy="1736.3" r="10" fill="#50a082" fill-opacity="0.4"/><circle cx="435.4" cy="1747.6" r="10" fill="#50a082" fill-opacity="0.4"/><circle cx="421.6" cy="1752.8" r="10" fill="#50a082" fill-opacity="0.4"/><circle cx="448.4" cy="1759" r="10" fill="#50a082" fill-opacity="0.4"/><circle cx="460.5" cy="1750.1" r="8.5" fill="none" stroke="#50a082" stroke-width="3.2" stroke-opacity="0.4"/><circle cx="407.8" cy="1767.6" r="10" fill="#50a082" fill-opacity="0.4"/><circle cx="267.9" cy="1740.8" r="10" fill="#50a082" fill-opacity="0.4"/><circle cx="435.4" cy="1783.3" r="8.5" fill="none" stroke="#50a082" stroke-width="3.2" stroke-opacity="0.4"/><circle cx="435.4" cy="1783.3" r="10" fill="#50a082" fill-opacity="0.4"/><circle cx="435.4" cy="1800.4" r="10" fill="#50a082" fill-opacity="0.4"/><circle cx="481.6" cy="1811.7" r="8.5" fill="none" stroke="#50a082" stroke-width="3.2" stroke-opacity="0.4"/><circle cx="362" cy="1813.3" r="8.5" fill="none" stroke="#50a082" stroke-width="3.2" stroke-opacity="0.4"/><circle cx="288.8" cy="1818.2" r="8.5" fill="none" stroke="#50a082" stroke-width="3.2" stroke-opacity="0.4"/><circle cx="288.8" cy="1835.3" r="10" fill="#50a082" fill-opacity="0.4"/><circle cx="327.5" cy="1827.1" r="10" fill="#50a082" fill-opacity="0.4"/><circle cx="327.5" cy="1828.8" r="8.5" fill="none" stroke="#50a082" stroke-width="3.2" stroke-opacity="0.4"/><circle cx="221.2" cy="1831.7" r="10" fill="#50a082" fill-opacity="0.4"/><circle cx="435.4" cy="1840.9" r="8.5" fill="none" stroke="#50a082" stroke-width="3.2" stroke-opacity="0.4"/><circle cx="308.8" cy="1928.6" r="8.5" fill="none" stroke="#50a082" stroke-width="3.2" stroke-opacity="0.4"/><circle cx="494.3" cy="1684.3" r="10" fill="#50a082" fill-opacity="0.4"/><circle cx="505.7" cy="1679.1" r="10" fill="#50a082" fill-opacity="0.4"/><circle cx="535.7" cy="1680.8" r="10" fill="#50a082" fill-opacity="0.4"/><circle cx="535.7" cy="1680.8" r="10" fill="#50a082" fill-opacity="0.4"/><circle cx="535.7" cy="1680.8" r="10" fill="#50a082" fill-opacity="0.4"/><circle cx="563.6" cy="1680.8" r="10" fill="#50a082" fill-opacity="0.4"/><circle cx="588.9" cy="1680.8" r="10" fill="#50a082" fill-opacity="0.4"/><circle cx="604.7" cy="1682.7" r="8.5" fill="none" stroke="#50a082" stroke-width="3.2" stroke-opacity="0.4"/><circle cx="620.1" cy="1681.1" r="10" fill="#50a082" fill-opacity="0.4"/><circle cx="627.4" cy="1680.8" r="8.5" fill="none" stroke="#50a082" stroke-width="3.2" stroke-opacity="0.4"/><circle cx="752.8" cy="1679.1" r="10" fill="#50a082" fill-opacity="0.4"/><circle cx="526" cy="1695.7" r="10" fill="#50a082" fill-opacity="0.4"/><circle cx="535.7" cy="1706.2" r="8.5" fill="none" stroke="#50a082" stroke-width="3.2" stroke-opacity="0.4"/><circle cx="494.7" cy="1702.5" r="8.5" fill="none" stroke="#50a082" stroke-width="3.2" stroke-opacity="0.4"/><circle cx="580.8" cy="1710.3" r="8.5" fill="none" stroke="#50a082" stroke-width="3.2" stroke-opacity="0.4"/><circle cx="641.7" cy="1715.5" r="10" fill="#50a082" fill-opacity="0.4"/><circle cx="571.9" cy="1729" r="10" fill="#50a082" fill-opacity="0.4"/><circle cx="580.8" cy="1733.8" r="10" fill="#50a082" fill-opacity="0.4"/><circle cx="505.7" cy="1738.2" r="10" fill="#50a082" fill-opacity="0.4"/><circle cx="494.7" cy="1756.6" r="8.5" fill="none" stroke="#50a082" stroke-width="3.2" stroke-opacity="0.4"/><circle cx="554.4" cy="1787.1" r="8.5" fill="none" stroke="#50a082" stroke-width="3.2" stroke-opacity="0.4"/><circle cx="604.7" cy="1778.5" r="8.5" fill="none" stroke="#50a082" stroke-width="3.2" stroke-opacity="0.4"/><circle cx="762.9" cy="1804.9" r="10" fill="#50a082" fill-opacity="0.4"/></g>
<path d="M166.5 1379.2 V1955.2 H790" fill="none" stroke="#000" stroke-width="2.8" stroke-linecap="butt" stroke-linejoin="miter"/>
<line x1="154.2" y1="1404.6" x2="166.5" y2="1404.6" stroke="#000" stroke-width="2.8"/>
<line x1="154.2" y1="1588.4" x2="166.5" y2="1588.4" stroke="#000" stroke-width="2.8"/>
<line x1="154.2" y1="1772.2" x2="166.5" y2="1772.2" stroke="#000" stroke-width="2.8"/>
<line x1="362.2" y1="1955.2" x2="362.2" y2="1967.5" stroke="#000" stroke-width="2.8"/>
<text x="362.2" y="1999.3" class="xl">0.2</text>
<line x1="494.7" y1="1955.2" x2="494.7" y2="1967.5" stroke="#000" stroke-width="2.8"/>
<text x="494.7" y="1999.3" class="xl">0.3</text>
<line x1="662.1" y1="1955.2" x2="662.1" y2="1967.5" stroke="#000" stroke-width="2.8"/>
<text x="662.1" y="1999.3" class="xl">0.5</text>
<text x="148.6" y="1414.6" class="yl" textLength="86.25" lengthAdjust="spacingAndGlyphs">10000</text>
<text x="148.6" y="1598.4" class="yl" textLength="51.75" lengthAdjust="spacingAndGlyphs">100</text>
<text x="148.6" y="1782.2" class="yl" textLength="17.25" lengthAdjust="spacingAndGlyphs">1</text>
<text x="9.2" y="1394.7" class="pl">g</text>
<text x="199.8" y="1405.0" class="lt">Temperate</text>
<g><circle cx="1091" cy="1405" r="8.5" fill="none" stroke="#ad972c" stroke-width="3.2" stroke-opacity="0.45"/><circle cx="951.3" cy="1426.5" r="8.5" fill="none" stroke="#ad972c" stroke-width="3.2" stroke-opacity="0.45"/><circle cx="1092.6" cy="1430.9" r="8.5" fill="none" stroke="#ad972c" stroke-width="3.2" stroke-opacity="0.45"/><circle cx="1097.8" cy="1438.7" r="8.5" fill="none" stroke="#ad972c" stroke-width="3.2" stroke-opacity="0.45"/><circle cx="1004.9" cy="1471.5" r="8.5" fill="none" stroke="#ad972c" stroke-width="3.2" stroke-opacity="0.45"/><circle cx="1085.2" cy="1491.8" r="10" fill="#ad972c" fill-opacity="0.45"/><circle cx="1066.7" cy="1503.5" r="8.5" fill="none" stroke="#ad972c" stroke-width="3.2" stroke-opacity="0.45"/><circle cx="880.9" cy="1525" r="8.5" fill="none" stroke="#ad972c" stroke-width="3.2" stroke-opacity="0.45"/><circle cx="1046.2" cy="1522.1" r="10" fill="#ad972c" fill-opacity="0.45"/><circle cx="1036.2" cy="1529.6" r="8.5" fill="none" stroke="#ad972c" stroke-width="3.2" stroke-opacity="0.45"/><circle cx="1153.8" cy="1519.9" r="8.5" fill="none" stroke="#ad972c" stroke-width="3.2" stroke-opacity="0.45"/><circle cx="1168.4" cy="1513.7" r="10" fill="#ad972c" fill-opacity="0.45"/><circle cx="984.7" cy="1557" r="8.5" fill="none" stroke="#ad972c" stroke-width="3.2" stroke-opacity="0.45"/><circle cx="1050.5" cy="1562.9" r="10" fill="#ad972c" fill-opacity="0.45"/><circle cx="1097.8" cy="1569.2" r="10" fill="#ad972c" fill-opacity="0.45"/><circle cx="1153.8" cy="1550.7" r="8.5" fill="none" stroke="#ad972c" stroke-width="3.2" stroke-opacity="0.45"/><circle cx="1168.4" cy="1557.5" r="8.5" fill="none" stroke="#ad972c" stroke-width="3.2" stroke-opacity="0.45"/><circle cx="955.9" cy="1593.2" r="8.5" fill="none" stroke="#ad972c" stroke-width="3.2" stroke-opacity="0.45"/><circle cx="989.9" cy="1588.8" r="8.5" fill="none" stroke="#ad972c" stroke-width="3.2" stroke-opacity="0.45"/><circle cx="1016.7" cy="1602.9" r="8.5" fill="none" stroke="#ad972c" stroke-width="3.2" stroke-opacity="0.45"/><circle cx="1098.7" cy="1590" r="10" fill="#ad972c" fill-opacity="0.45"/><circle cx="1101.1" cy="1597.3" r="10" fill="#ad972c" fill-opacity="0.45"/><circle cx="1130" cy="1584.8" r="8.5" fill="none" stroke="#ad972c" stroke-width="3.2" stroke-opacity="0.45"/><circle cx="1125.1" cy="1598.9" r="10" fill="#ad972c" fill-opacity="0.45"/><circle cx="1161.9" cy="1609.1" r="10" fill="#ad972c" fill-opacity="0.45"/><circle cx="917.7" cy="1611.9" r="10" fill="#ad972c" fill-opacity="0.45"/><circle cx="1075.1" cy="1609.4" r="10" fill="#ad972c" fill-opacity="0.45"/><circle cx="1075.9" cy="1611" r="10" fill="#ad972c" fill-opacity="0.45"/><circle cx="1081.3" cy="1630.5" r="10" fill="#ad972c" fill-opacity="0.45"/><circle cx="1111.6" cy="1626.5" r="10" fill="#ad972c" fill-opacity="0.45"/><circle cx="1111.6" cy="1636.2" r="10" fill="#ad972c" fill-opacity="0.45"/><circle cx="1126.7" cy="1637" r="10" fill="#ad972c" fill-opacity="0.45"/><circle cx="986.7" cy="1634.1" r="10" fill="#ad972c" fill-opacity="0.45"/><circle cx="1024" cy="1653.2" r="8.5" fill="none" stroke="#ad972c" stroke-width="3.2" stroke-opacity="0.45"/><circle cx="1035.4" cy="1652.4" r="10" fill="#ad972c" fill-opacity="0.45"/><circle cx="1050" cy="1654.1" r="10" fill="#ad972c" fill-opacity="0.45"/><circle cx="1044.3" cy="1658.1" r="10" fill="#ad972c" fill-opacity="0.45"/><circle cx="1047.5" cy="1667" r="10" fill="#ad972c" fill-opacity="0.45"/><circle cx="1073.5" cy="1656.5" r="8.5" fill="none" stroke="#ad972c" stroke-width="3.2" stroke-opacity="0.45"/><circle cx="1086.5" cy="1666.2" r="10" fill="#ad972c" fill-opacity="0.45"/><circle cx="1075.9" cy="1671.1" r="10" fill="#ad972c" fill-opacity="0.45"/><circle cx="1101.1" cy="1653.2" r="10" fill="#ad972c" fill-opacity="0.45"/><circle cx="1105.1" cy="1650" r="10" fill="#ad972c" fill-opacity="0.45"/><circle cx="1122.2" cy="1655.7" r="10" fill="#ad972c" fill-opacity="0.45"/><circle cx="1143.3" cy="1653.2" r="10" fill="#ad972c" fill-opacity="0.45"/><circle cx="1143.3" cy="1656.5" r="10" fill="#ad972c" fill-opacity="0.45"/><circle cx="1027.3" cy="1676" r="10" fill="#ad972c" fill-opacity="0.45"/><circle cx="1215.2" cy="1418.3" r="10" fill="#ad972c" fill-opacity="0.45"/><circle cx="1224.9" cy="1430.6" r="10" fill="#ad972c" fill-opacity="0.45"/><circle cx="1188.9" cy="1514.5" r="10" fill="#ad972c" fill-opacity="0.45"/><circle cx="1338.5" cy="1552.6" r="10" fill="#ad972c" fill-opacity="0.45"/><circle cx="1197.6" cy="1580.2" r="10" fill="#ad972c" fill-opacity="0.45"/><circle cx="1210" cy="1587.5" r="10" fill="#ad972c" fill-opacity="0.45"/><circle cx="1202.2" cy="1598.1" r="10" fill="#ad972c" fill-opacity="0.45"/><circle cx="1183.2" cy="1606.2" r="8.5" fill="none" stroke="#ad972c" stroke-width="3.2" stroke-opacity="0.45"/><circle cx="1233" cy="1604.6" r="8.5" fill="none" stroke="#ad972c" stroke-width="3.2" stroke-opacity="0.45"/><circle cx="1279.6" cy="1603.7" r="10" fill="#ad972c" fill-opacity="0.45"/><circle cx="1448.8" cy="1609.1" r="10" fill="#ad972c" fill-opacity="0.45"/><circle cx="1236.3" cy="1616.7" r="10" fill="#ad972c" fill-opacity="0.45"/><circle cx="1255.4" cy="1620.3" r="10" fill="#ad972c" fill-opacity="0.45"/><circle cx="1225.7" cy="1629.7" r="10" fill="#ad972c" fill-opacity="0.45"/><circle cx="1202.5" cy="1637" r="10" fill="#ad972c" fill-opacity="0.45"/><circle cx="1217.6" cy="1640.3" r="10" fill="#ad972c" fill-opacity="0.45"/><circle cx="1241.9" cy="1641.1" r="10" fill="#ad972c" fill-opacity="0.45"/><circle cx="1202.5" cy="1647.6" r="10" fill="#ad972c" fill-opacity="0.45"/><circle cx="1230.9" cy="1654.9" r="8.5" fill="none" stroke="#ad972c" stroke-width="3.2" stroke-opacity="0.45"/><circle cx="1237.1" cy="1661.4" r="10" fill="#ad972c" fill-opacity="0.45"/><circle cx="1193.3" cy="1658.9" r="10" fill="#ad972c" fill-opacity="0.45"/><circle cx="1284.6" cy="1647.6" r="10" fill="#ad972c" fill-opacity="0.45"/><circle cx="1300.4" cy="1653.2" r="10" fill="#ad972c" fill-opacity="0.45"/><circle cx="1278.5" cy="1663" r="10" fill="#ad972c" fill-opacity="0.45"/><circle cx="1396.4" cy="1637" r="10" fill="#ad972c" fill-opacity="0.45"/><circle cx="932.8" cy="1688.7" r="10" fill="#ad972c" fill-opacity="0.45"/><circle cx="968.5" cy="1680.8" r="10" fill="#ad972c" fill-opacity="0.45"/><circle cx="1063.8" cy="1685.2" r="10" fill="#ad972c" fill-opacity="0.45"/><circle cx="1069.4" cy="1681.1" r="8.5" fill="none" stroke="#ad972c" stroke-width="3.2" stroke-opacity="0.45"/><circle cx="1075.9" cy="1684.3" r="10" fill="#ad972c" fill-opacity="0.45"/><circle cx="1092.2" cy="1691.6" r="8.5" fill="none" stroke="#ad972c" stroke-width="3.2" stroke-opacity="0.45"/><circle cx="1098.7" cy="1700.6" r="10" fill="#ad972c" fill-opacity="0.45"/><circle cx="1103.5" cy="1698.9" r="10" fill="#ad972c" fill-opacity="0.45"/><circle cx="1117.3" cy="1681.1" r="10" fill="#ad972c" fill-opacity="0.45"/><circle cx="1117.3" cy="1686.8" r="10" fill="#ad972c" fill-opacity="0.45"/><circle cx="1133.5" cy="1680.3" r="8.5" fill="none" stroke="#ad972c" stroke-width="3.2" stroke-opacity="0.45"/><circle cx="1136.8" cy="1695.7" r="10" fill="#ad972c" fill-opacity="0.45"/><circle cx="1146.5" cy="1681.1" r="8.5" fill="none" stroke="#ad972c" stroke-width="3.2" stroke-opacity="0.45"/><circle cx="1161.1" cy="1680.3" r="10" fill="#ad972c" fill-opacity="0.45"/><circle cx="1170.1" cy="1680.3" r="10" fill="#ad972c" fill-opacity="0.45"/><circle cx="1134.4" cy="1708.7" r="10" fill="#ad972c" fill-opacity="0.45"/><circle cx="1154.6" cy="1717.6" r="10" fill="#ad972c" fill-opacity="0.45"/><circle cx="1161.9" cy="1711.1" r="10" fill="#ad972c" fill-opacity="0.45"/><circle cx="1075.6" cy="1705.4" r="10" fill="#ad972c" fill-opacity="0.45"/><circle cx="1111.6" cy="1717.6" r="10" fill="#ad972c" fill-opacity="0.45"/><circle cx="1110" cy="1735.5" r="10" fill="#ad972c" fill-opacity="0.45"/><circle cx="1089.7" cy="1733.8" r="10" fill="#ad972c" fill-opacity="0.45"/><circle cx="1027.3" cy="1713.5" r="10" fill="#ad972c" fill-opacity="0.45"/><circle cx="1045.9" cy="1712.7" r="10" fill="#ad972c" fill-opacity="0.45"/><circle cx="1043.5" cy="1724.9" r="10" fill="#ad972c" fill-opacity="0.45"/><circle cx="1053.2" cy="1731.4" r="10" fill="#ad972c" fill-opacity="0.45"/><circle cx="1059.7" cy="1729" r="10" fill="#ad972c" fill-opacity="0.45"/><circle cx="1041.5" cy="1752.8" r="10" fill="#ad972c" fill-opacity="0.45"/><circle cx="1113.6" cy="1759" r="10" fill="#ad972c" fill-opacity="0.45"/><circle cx="983" cy="1740.8" r="10" fill="#ad972c" fill-opacity="0.45"/><circle cx="1140" cy="1767.6" r="10" fill="#ad972c" fill-opacity="0.45"/><circle cx="1153.8" cy="1783.3" r="8.5" fill="none" stroke="#ad972c" stroke-width="3.2" stroke-opacity="0.45"/><circle cx="1155.4" cy="1786.6" r="10" fill="#ad972c" fill-opacity="0.45"/><circle cx="1140" cy="1800.4" r="10" fill="#ad972c" fill-opacity="0.45"/><circle cx="1170.1" cy="1749.2" r="8.5" fill="none" stroke="#ad972c" stroke-width="3.2" stroke-opacity="0.45"/><circle cx="1167.6" cy="1811.7" r="8.5" fill="none" stroke="#ad972c" stroke-width="3.2" stroke-opacity="0.45"/><circle cx="1032.6" cy="1818.2" r="8.5" fill="none" stroke="#ad972c" stroke-width="3.2" stroke-opacity="0.45"/><circle cx="1025.3" cy="1831.7" r="10" fill="#ad972c" fill-opacity="0.45"/><circle cx="1066.5" cy="1813.7" r="8.5" fill="none" stroke="#ad972c" stroke-width="3.2" stroke-opacity="0.45"/><circle cx="905.5" cy="1831.2" r="10" fill="#ad972c" fill-opacity="0.45"/><circle cx="905.5" cy="1841.7" r="8.5" fill="none" stroke="#ad972c" stroke-width="3.2" stroke-opacity="0.45"/><circle cx="1087.3" cy="1929.4" r="8.5" fill="none" stroke="#ad972c" stroke-width="3.2" stroke-opacity="0.45"/><circle cx="1174.6" cy="1680.3" r="10" fill="#ad972c" fill-opacity="0.45"/><circle cx="1188.9" cy="1680.3" r="10" fill="#ad972c" fill-opacity="0.45"/><circle cx="1189.2" cy="1681.1" r="10" fill="#ad972c" fill-opacity="0.45"/><circle cx="1211.9" cy="1680.3" r="10" fill="#ad972c" fill-opacity="0.45"/><circle cx="1216" cy="1681.1" r="10" fill="#ad972c" fill-opacity="0.45"/><circle cx="1235.5" cy="1682.7" r="8.5" fill="none" stroke="#ad972c" stroke-width="3.2" stroke-opacity="0.45"/><circle cx="1244.4" cy="1680.8" r="10" fill="#ad972c" fill-opacity="0.45"/><circle cx="1315" cy="1680.8" r="10" fill="#ad972c" fill-opacity="0.45"/><circle cx="1315" cy="1680.8" r="8.5" fill="none" stroke="#ad972c" stroke-width="3.2" stroke-opacity="0.45"/><circle cx="1432.6" cy="1679.1" r="10" fill="#ad972c" fill-opacity="0.45"/><circle cx="1439.1" cy="1680.3" r="10" fill="#ad972c" fill-opacity="0.45"/><circle cx="1197.3" cy="1695.7" r="10" fill="#ad972c" fill-opacity="0.45"/><circle cx="1182.7" cy="1701.4" r="8.5" fill="none" stroke="#ad972c" stroke-width="3.2" stroke-opacity="0.45"/><circle cx="1188.4" cy="1710.3" r="8.5" fill="none" stroke="#ad972c" stroke-width="3.2" stroke-opacity="0.45"/><circle cx="1187.6" cy="1698.9" r="10" fill="#ad972c" fill-opacity="0.45"/><circle cx="1252.8" cy="1705.8" r="8.5" fill="none" stroke="#ad972c" stroke-width="3.2" stroke-opacity="0.45"/><circle cx="1246.3" cy="1715.7" r="10" fill="#ad972c" fill-opacity="0.45"/><circle cx="1274.4" cy="1728.5" r="10" fill="#ad972c" fill-opacity="0.45"/><circle cx="1295" cy="1734.2" r="10" fill="#ad972c" fill-opacity="0.45"/><circle cx="1274.7" cy="1747.1" r="10" fill="#ad972c" fill-opacity="0.45"/><circle cx="1233.8" cy="1738.2" r="10" fill="#ad972c" fill-opacity="0.45"/><circle cx="1175.4" cy="1750.1" r="8.5" fill="none" stroke="#ad972c" stroke-width="3.2" stroke-opacity="0.45"/><circle cx="1211.9" cy="1756.6" r="8.5" fill="none" stroke="#ad972c" stroke-width="3.2" stroke-opacity="0.45"/><circle cx="1267.9" cy="1778.5" r="8.5" fill="none" stroke="#ad972c" stroke-width="3.2" stroke-opacity="0.45"/><circle cx="1399" cy="1804.9" r="10" fill="#ad972c" fill-opacity="0.45"/><circle cx="1186.5" cy="1826.7" r="8.5" fill="none" stroke="#ad972c" stroke-width="3.2" stroke-opacity="0.45"/><circle cx="1213.9" cy="1835.3" r="10" fill="#ad972c" fill-opacity="0.45"/></g>
<path d="M852.5 1379.2 V1955.2 H1477" fill="none" stroke="#000" stroke-width="2.8" stroke-linecap="butt" stroke-linejoin="miter"/>
<line x1="840.2" y1="1405" x2="852.5" y2="1405" stroke="#000" stroke-width="2.8"/>
<line x1="840.2" y1="1588.1" x2="852.5" y2="1588.1" stroke="#000" stroke-width="2.8"/>
<line x1="840.2" y1="1772" x2="852.5" y2="1772" stroke="#000" stroke-width="2.8"/>
<line x1="862.1" y1="1955.2" x2="862.1" y2="1967.5" stroke="#000" stroke-width="2.8"/>
<text x="862.1" y="1999.3" class="xl">30</text>
<line x1="1025.7" y1="1955.2" x2="1025.7" y2="1967.5" stroke="#000" stroke-width="2.8"/>
<text x="1025.7" y="1999.3" class="xl">50</text>
<line x1="1247" y1="1955.2" x2="1247" y2="1967.5" stroke="#000" stroke-width="2.8"/>
<text x="1247" y="1999.3" class="xl">100</text>
<text x="781.6" y="1395.4" class="pl">h</text>
<text x="878.8" y="1401.7" class="lt">Temperate</text>
<g><circle cx="1570.5" cy="1430.9" r="8.5" fill="none" stroke="#2d6eb9" stroke-width="3.2" stroke-opacity="0.42"/><circle cx="1845.8" cy="1438.7" r="8.5" fill="none" stroke="#2d6eb9" stroke-width="3.2" stroke-opacity="0.42"/><circle cx="1834.6" cy="1503.1" r="8.5" fill="none" stroke="#2d6eb9" stroke-width="3.2" stroke-opacity="0.42"/><circle cx="1826.8" cy="1515.3" r="10" fill="#2d6eb9" fill-opacity="0.42"/><circle cx="1824.4" cy="1520.2" r="8.5" fill="none" stroke="#2d6eb9" stroke-width="3.2" stroke-opacity="0.42"/><circle cx="1747.3" cy="1521.8" r="10" fill="#2d6eb9" fill-opacity="0.42"/><circle cx="1741.7" cy="1525" r="8.5" fill="none" stroke="#2d6eb9" stroke-width="3.2" stroke-opacity="0.42"/><circle cx="1791.1" cy="1529.1" r="8.5" fill="none" stroke="#2d6eb9" stroke-width="3.2" stroke-opacity="0.42"/><circle cx="1704.3" cy="1563.2" r="10" fill="#2d6eb9" fill-opacity="0.42"/><circle cx="1729.5" cy="1569.2" r="10" fill="#2d6eb9" fill-opacity="0.42"/><circle cx="1775.7" cy="1557.5" r="8.5" fill="none" stroke="#2d6eb9" stroke-width="3.2" stroke-opacity="0.42"/><circle cx="1841" cy="1552.6" r="10" fill="#2d6eb9" fill-opacity="0.42"/><circle cx="1613.5" cy="1611.9" r="10" fill="#2d6eb9" fill-opacity="0.42"/><circle cx="1739.5" cy="1598.9" r="10" fill="#2d6eb9" fill-opacity="0.42"/><circle cx="1753" cy="1590" r="10" fill="#2d6eb9" fill-opacity="0.42"/><circle cx="1757.9" cy="1592.4" r="8.5" fill="none" stroke="#2d6eb9" stroke-width="3.2" stroke-opacity="0.42"/><circle cx="1771.7" cy="1597.3" r="10" fill="#2d6eb9" fill-opacity="0.42"/><circle cx="1778.2" cy="1588.3" r="8.5" fill="none" stroke="#2d6eb9" stroke-width="3.2" stroke-opacity="0.42"/><circle cx="1758.4" cy="1606.2" r="8.5" fill="none" stroke="#2d6eb9" stroke-width="3.2" stroke-opacity="0.42"/><circle cx="1763.9" cy="1620.5" r="10" fill="#2d6eb9" fill-opacity="0.42"/><circle cx="1789" cy="1610.2" r="10" fill="#2d6eb9" fill-opacity="0.42"/><circle cx="1847.9" cy="1612.7" r="10" fill="#2d6eb9" fill-opacity="0.42"/><circle cx="1850.4" cy="1626.5" r="10" fill="#2d6eb9" fill-opacity="0.42"/><circle cx="1747.8" cy="1634.3" r="10" fill="#2d6eb9" fill-opacity="0.42"/><circle cx="1796" cy="1629.7" r="10" fill="#2d6eb9" fill-opacity="0.42"/><circle cx="1809.8" cy="1629.7" r="10" fill="#2d6eb9" fill-opacity="0.42"/><circle cx="1787.9" cy="1637" r="10" fill="#2d6eb9" fill-opacity="0.42"/><circle cx="1819.5" cy="1639.4" r="10" fill="#2d6eb9" fill-opacity="0.42"/><circle cx="1796.8" cy="1648.4" r="10" fill="#2d6eb9" fill-opacity="0.42"/><circle cx="1789.5" cy="1653.2" r="10" fill="#2d6eb9" fill-opacity="0.42"/><circle cx="1797.6" cy="1658.1" r="10" fill="#2d6eb9" fill-opacity="0.42"/><circle cx="1797.6" cy="1659.7" r="10" fill="#2d6eb9" fill-opacity="0.42"/><circle cx="1801.7" cy="1662.2" r="10" fill="#2d6eb9" fill-opacity="0.42"/><circle cx="1779" cy="1659.7" r="10" fill="#2d6eb9" fill-opacity="0.42"/><circle cx="1832.5" cy="1653.2" r="10" fill="#2d6eb9" fill-opacity="0.42"/><circle cx="1834.1" cy="1669.5" r="10" fill="#2d6eb9" fill-opacity="0.42"/><circle cx="1658.9" cy="1641.1" r="10" fill="#2d6eb9" fill-opacity="0.42"/><circle cx="1675.6" cy="1639.4" r="10" fill="#2d6eb9" fill-opacity="0.42"/><circle cx="1677.6" cy="1653.2" r="10" fill="#2d6eb9" fill-opacity="0.42"/><circle cx="1684" cy="1656.5" r="10" fill="#2d6eb9" fill-opacity="0.42"/><circle cx="1703.5" cy="1653.2" r="8.5" fill="none" stroke="#2d6eb9" stroke-width="3.2" stroke-opacity="0.42"/><circle cx="1714.1" cy="1667" r="10" fill="#2d6eb9" fill-opacity="0.42"/><circle cx="1566.9" cy="1667" r="10" fill="#2d6eb9" fill-opacity="0.42"/><circle cx="1880.2" cy="1405" r="8.5" fill="none" stroke="#2d6eb9" stroke-width="3.2" stroke-opacity="0.42"/><circle cx="1917.9" cy="1418.3" r="10" fill="#2d6eb9" fill-opacity="0.42"/><circle cx="1896.8" cy="1430.1" r="10" fill="#2d6eb9" fill-opacity="0.42"/><circle cx="2134.5" cy="1426.5" r="8.5" fill="none" stroke="#2d6eb9" stroke-width="3.2" stroke-opacity="0.42"/><circle cx="1929.2" cy="1513.7" r="10" fill="#2d6eb9" fill-opacity="0.42"/><circle cx="1906.5" cy="1550.7" r="8.5" fill="none" stroke="#2d6eb9" stroke-width="3.2" stroke-opacity="0.42"/><circle cx="1931.4" cy="1557" r="8.5" fill="none" stroke="#2d6eb9" stroke-width="3.2" stroke-opacity="0.42"/><circle cx="1864.8" cy="1580.5" r="10" fill="#2d6eb9" fill-opacity="0.42"/><circle cx="1896.3" cy="1587.5" r="10" fill="#2d6eb9" fill-opacity="0.42"/><circle cx="1919.5" cy="1602.9" r="8.5" fill="none" stroke="#2d6eb9" stroke-width="3.2" stroke-opacity="0.42"/><circle cx="1935.7" cy="1609.4" r="10" fill="#2d6eb9" fill-opacity="0.42"/><circle cx="1953.6" cy="1597.7" r="10" fill="#2d6eb9" fill-opacity="0.42"/><circle cx="1981.7" cy="1585.1" r="8.5" fill="none" stroke="#2d6eb9" stroke-width="3.2" stroke-opacity="0.42"/><circle cx="2113.8" cy="1605" r="8.5" fill="none" stroke="#2d6eb9" stroke-width="3.2" stroke-opacity="0.42"/><circle cx="1871.6" cy="1616.7" r="10" fill="#2d6eb9" fill-opacity="0.42"/><circle cx="1872.8" cy="1637" r="10" fill="#2d6eb9" fill-opacity="0.42"/><circle cx="1906.5" cy="1637" r="10" fill="#2d6eb9" fill-opacity="0.42"/><circle cx="1930.9" cy="1648.4" r="10" fill="#2d6eb9" fill-opacity="0.42"/><circle cx="1992.2" cy="1637" r="10" fill="#2d6eb9" fill-opacity="0.42"/><circle cx="1894.4" cy="1653.2" r="10" fill="#2d6eb9" fill-opacity="0.42"/><circle cx="1873.3" cy="1655.7" r="8.5" fill="none" stroke="#2d6eb9" stroke-width="3.2" stroke-opacity="0.42"/><circle cx="1874.9" cy="1657.3" r="8.5" fill="none" stroke="#2d6eb9" stroke-width="3.2" stroke-opacity="0.42"/><circle cx="1876.5" cy="1658.9" r="10" fill="#2d6eb9" fill-opacity="0.42"/><circle cx="1916.3" cy="1663" r="10" fill="#2d6eb9" fill-opacity="0.42"/><circle cx="1973.9" cy="1659.7" r="10" fill="#2d6eb9" fill-opacity="0.42"/><circle cx="2064.7" cy="1651.6" r="10" fill="#2d6eb9" fill-opacity="0.42"/><circle cx="1658.9" cy="1680.8" r="10" fill="#2d6eb9" fill-opacity="0.42"/><circle cx="1685.7" cy="1692" r="8.5" fill="none" stroke="#2d6eb9" stroke-width="3.2" stroke-opacity="0.42"/><circle cx="1701.1" cy="1678.7" r="10" fill="#2d6eb9" fill-opacity="0.42"/><circle cx="1720.6" cy="1697.8" r="10" fill="#2d6eb9" fill-opacity="0.42"/><circle cx="1788.7" cy="1681.9" r="10" fill="#2d6eb9" fill-opacity="0.42"/><circle cx="1799.3" cy="1681.1" r="10" fill="#2d6eb9" fill-opacity="0.42"/><circle cx="1807.4" cy="1687.6" r="10" fill="#2d6eb9" fill-opacity="0.42"/><circle cx="1813.9" cy="1686" r="10" fill="#2d6eb9" fill-opacity="0.42"/><circle cx="1820.4" cy="1684.3" r="10" fill="#2d6eb9" fill-opacity="0.42"/><circle cx="1835" cy="1681.1" r="8.5" fill="none" stroke="#2d6eb9" stroke-width="3.2" stroke-opacity="0.42"/><circle cx="1854.4" cy="1682.7" r="10" fill="#2d6eb9" fill-opacity="0.42"/><circle cx="1775.7" cy="1710.3" r="10" fill="#2d6eb9" fill-opacity="0.42"/><circle cx="1777.4" cy="1712.7" r="10" fill="#2d6eb9" fill-opacity="0.42"/><circle cx="1766.8" cy="1717.6" r="10" fill="#2d6eb9" fill-opacity="0.42"/><circle cx="1784.7" cy="1729" r="10" fill="#2d6eb9" fill-opacity="0.42"/><circle cx="1802.5" cy="1713.5" r="10" fill="#2d6eb9" fill-opacity="0.42"/><circle cx="1826.8" cy="1715.2" r="10" fill="#2d6eb9" fill-opacity="0.42"/><circle cx="1822.8" cy="1724.9" r="10" fill="#2d6eb9" fill-opacity="0.42"/><circle cx="1847.9" cy="1705.4" r="10" fill="#2d6eb9" fill-opacity="0.42"/><circle cx="1843.1" cy="1731.4" r="10" fill="#2d6eb9" fill-opacity="0.42"/><circle cx="1854.4" cy="1733.8" r="10" fill="#2d6eb9" fill-opacity="0.42"/><circle cx="1662.9" cy="1735.1" r="10" fill="#2d6eb9" fill-opacity="0.42"/><circle cx="1707.1" cy="1759" r="10" fill="#2d6eb9" fill-opacity="0.42"/><circle cx="1818.7" cy="1767.4" r="10" fill="#2d6eb9" fill-opacity="0.42"/><circle cx="1724.3" cy="1783.3" r="8.5" fill="none" stroke="#2d6eb9" stroke-width="3.2" stroke-opacity="0.42"/><circle cx="1723" cy="1826.3" r="8.5" fill="none" stroke="#2d6eb9" stroke-width="3.2" stroke-opacity="0.42"/><circle cx="1730.3" cy="1831.2" r="10" fill="#2d6eb9" fill-opacity="0.42"/><circle cx="1734" cy="1841.7" r="8.5" fill="none" stroke="#2d6eb9" stroke-width="3.2" stroke-opacity="0.42"/><circle cx="1578.2" cy="1835.3" r="10" fill="#2d6eb9" fill-opacity="0.42"/><circle cx="1852.8" cy="1929.4" r="8.5" fill="none" stroke="#2d6eb9" stroke-width="3.2" stroke-opacity="0.42"/><circle cx="1869.2" cy="1680.8" r="10" fill="#2d6eb9" fill-opacity="0.42"/><circle cx="1883.8" cy="1680.8" r="10" fill="#2d6eb9" fill-opacity="0.42"/><circle cx="1890.3" cy="1680.8" r="10" fill="#2d6eb9" fill-opacity="0.42"/><circle cx="1897.6" cy="1680.8" r="10" fill="#2d6eb9" fill-opacity="0.42"/><circle cx="1900.9" cy="1681.1" r="10" fill="#2d6eb9" fill-opacity="0.42"/><circle cx="1914.6" cy="1680.8" r="10" fill="#2d6eb9" fill-opacity="0.42"/><circle cx="1930.9" cy="1680.8" r="10" fill="#2d6eb9" fill-opacity="0.42"/><circle cx="1937.4" cy="1681.1" r="10" fill="#2d6eb9" fill-opacity="0.42"/><circle cx="1964.1" cy="1680.8" r="10" fill="#2d6eb9" fill-opacity="0.42"/><circle cx="2016.6" cy="1679.1" r="10" fill="#2d6eb9" fill-opacity="0.42"/><circle cx="2042.5" cy="1682.7" r="8.5" fill="none" stroke="#2d6eb9" stroke-width="3.2" stroke-opacity="0.42"/><circle cx="1864.3" cy="1700.6" r="10" fill="#2d6eb9" fill-opacity="0.42"/><circle cx="1900" cy="1701.4" r="8.5" fill="none" stroke="#2d6eb9" stroke-width="3.2" stroke-opacity="0.42"/><circle cx="1902.5" cy="1698.9" r="10" fill="#2d6eb9" fill-opacity="0.42"/><circle cx="1909.8" cy="1698.1" r="10" fill="#2d6eb9" fill-opacity="0.42"/><circle cx="1930.1" cy="1695.7" r="10" fill="#2d6eb9" fill-opacity="0.42"/><circle cx="1964.9" cy="1710.3" r="8.5" fill="none" stroke="#2d6eb9" stroke-width="3.2" stroke-opacity="0.42"/><circle cx="2016.6" cy="1706.2" r="8.5" fill="none" stroke="#2d6eb9" stroke-width="3.2" stroke-opacity="0.42"/><circle cx="1857" cy="1733.8" r="10" fill="#2d6eb9" fill-opacity="0.42"/><circle cx="1917.6" cy="1729" r="10" fill="#2d6eb9" fill-opacity="0.42"/><circle cx="1909.8" cy="1737.9" r="10" fill="#2d6eb9" fill-opacity="0.42"/><circle cx="1919" cy="1753" r="10" fill="#2d6eb9" fill-opacity="0.42"/><circle cx="1964.5" cy="1746.8" r="10" fill="#2d6eb9" fill-opacity="0.42"/><circle cx="1984.9" cy="1733.8" r="10" fill="#2d6eb9" fill-opacity="0.42"/><circle cx="1980.4" cy="1750.1" r="8.5" fill="none" stroke="#2d6eb9" stroke-width="3.2" stroke-opacity="0.42"/><circle cx="1875.2" cy="1756.6" r="8.5" fill="none" stroke="#2d6eb9" stroke-width="3.2" stroke-opacity="0.42"/><circle cx="1898.7" cy="1783.8" r="10" fill="#2d6eb9" fill-opacity="0.42"/><circle cx="1948.1" cy="1800.5" r="10" fill="#2d6eb9" fill-opacity="0.42"/><circle cx="1964.5" cy="1787.1" r="8.5" fill="none" stroke="#2d6eb9" stroke-width="3.2" stroke-opacity="0.42"/><circle cx="2013.1" cy="1778.5" r="8.5" fill="none" stroke="#2d6eb9" stroke-width="3.2" stroke-opacity="0.42"/><circle cx="2062.3" cy="1804.7" r="10" fill="#2d6eb9" fill-opacity="0.42"/><circle cx="1903.8" cy="1818.2" r="8.5" fill="none" stroke="#2d6eb9" stroke-width="3.2" stroke-opacity="0.42"/><circle cx="1864.3" cy="1831.7" r="10" fill="#2d6eb9" fill-opacity="0.42"/></g>
<path d="M1538.5 1379.2 V1955.2 H2162" fill="none" stroke="#000" stroke-width="2.8" stroke-linecap="butt" stroke-linejoin="miter"/>
<line x1="1526.2" y1="1404.9" x2="1538.5" y2="1404.9" stroke="#000" stroke-width="2.8"/>
<line x1="1526.2" y1="1588.2" x2="1538.5" y2="1588.2" stroke="#000" stroke-width="2.8"/>
<line x1="1526.2" y1="1772.7" x2="1538.5" y2="1772.7" stroke="#000" stroke-width="2.8"/>
<line x1="1633.4" y1="1955.2" x2="1633.4" y2="1967.5" stroke="#000" stroke-width="2.8"/>
<text x="1633.4" y="1999.3" class="xl">3</text>
<line x1="1798" y1="1955.2" x2="1798" y2="1967.5" stroke="#000" stroke-width="2.8"/>
<text x="1798" y="1999.3" class="xl">5</text>
<line x1="2021" y1="1955.2" x2="2021" y2="1967.5" stroke="#000" stroke-width="2.8"/>
<text x="2021" y="1999.3" class="xl">10</text>
<text x="1481.2" y="1392.0" class="pl">i</text>
<text x="1602.8" y="1405.0" class="lt">Temperate</text>
<text transform="translate(33.2 328.4) rotate(-90)" class="at">Seed mass (mg)</text>
<text transform="translate(33.2 971.2) rotate(-90)" class="at">Seed mass (mg)</text>
<text transform="translate(26.6 1689.2) rotate(-90)" class="at">Seed mass (mg)</text>
<text x="482.85" y="2051.5" class="at">Root diameter (mm)</text>
<text x="1149.1" y="2051.4" class="at">Cortical thickness (µm)</text>
<text x="1848.6" y="2051.4" class="at">Vessel diameter (µm)</text>
</svg>
</body></html>
